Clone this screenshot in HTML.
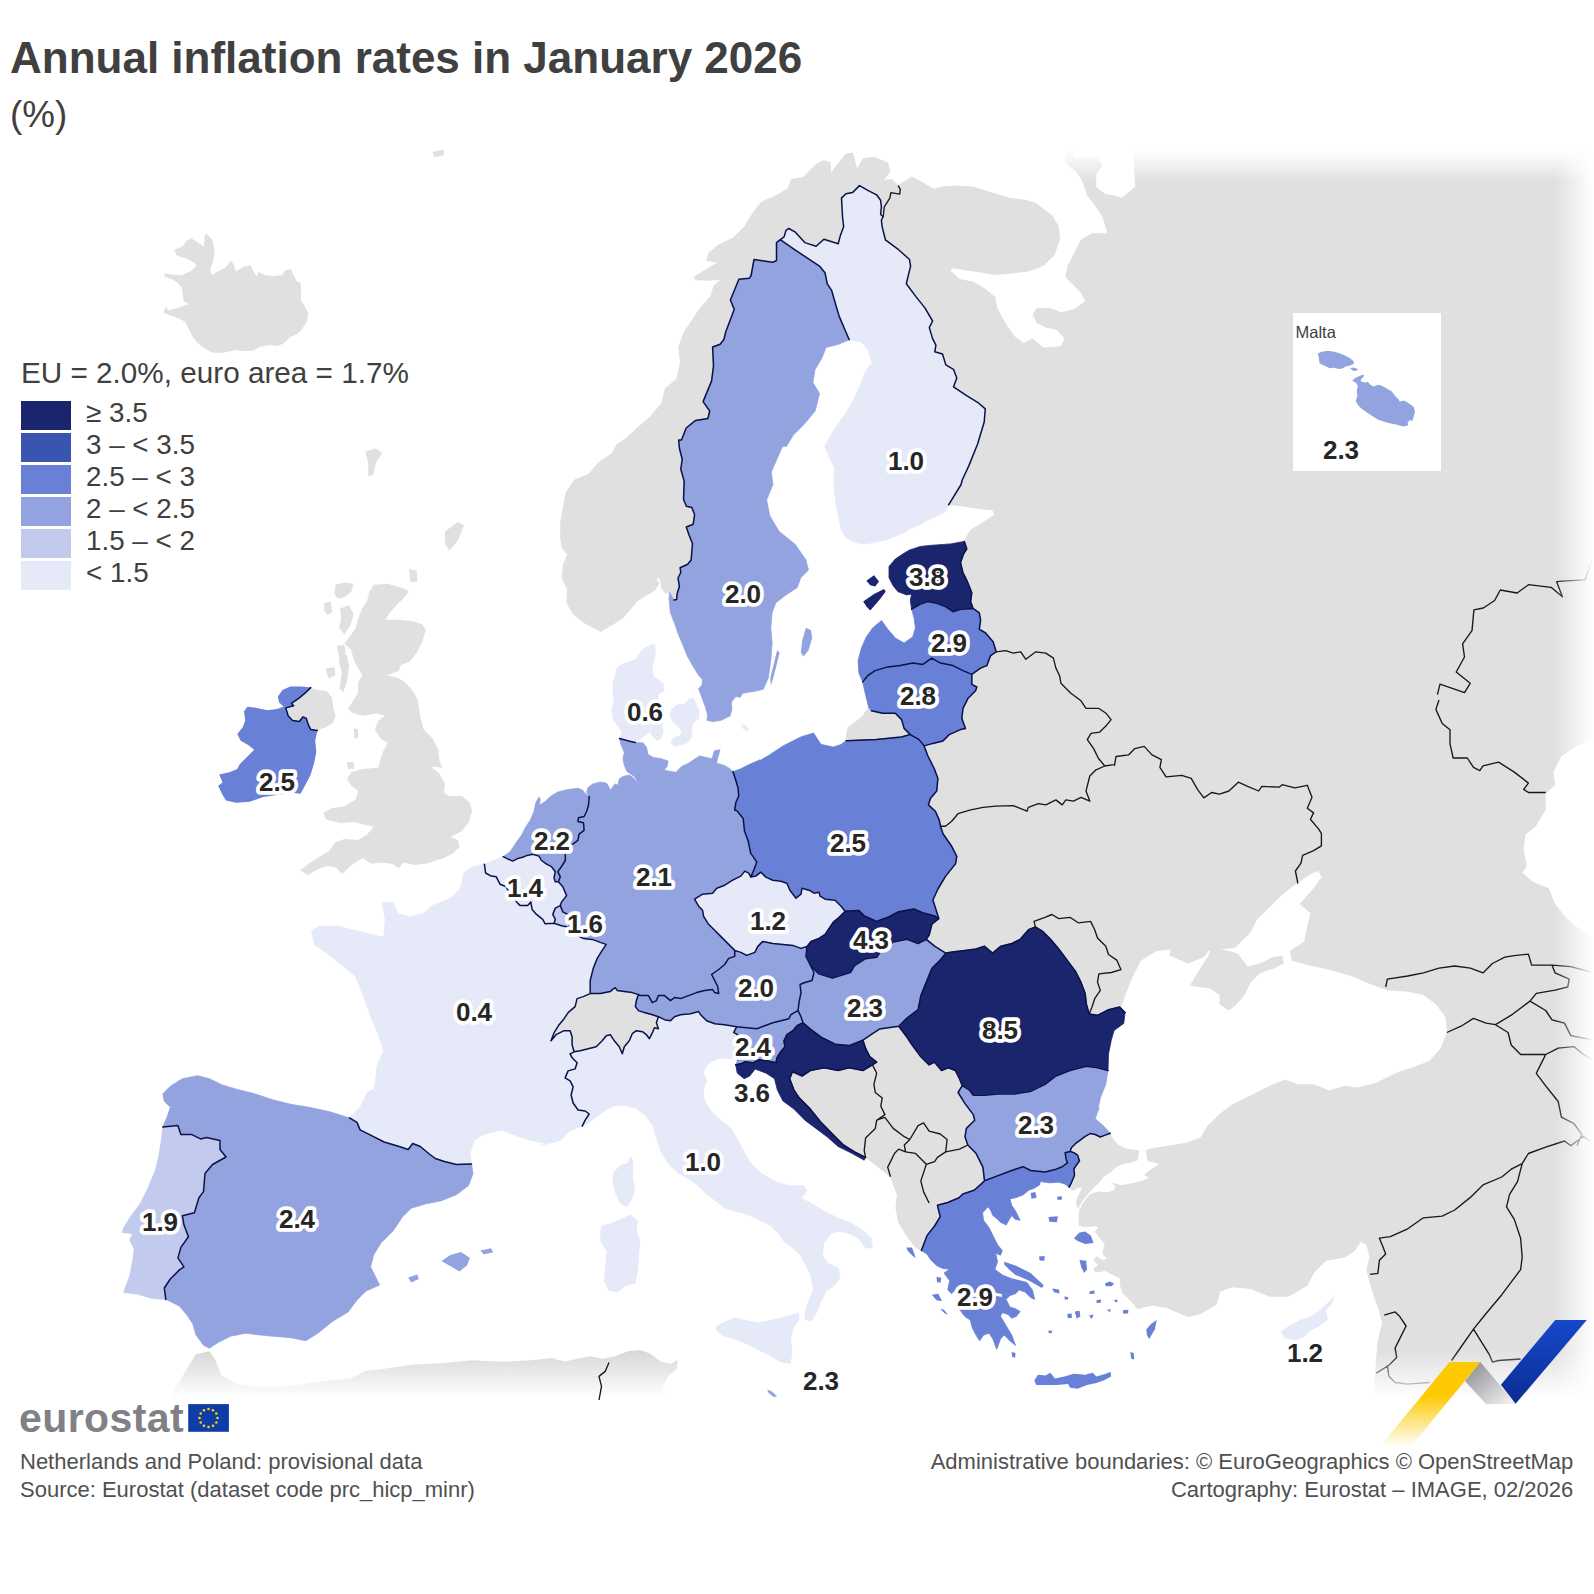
<!DOCTYPE html>
<html><head><meta charset="utf-8"><title>Annual inflation rates in January 2026</title>
<style>
html,body{margin:0;padding:0;background:#fff}
body{width:1594px;height:1594px;position:relative;overflow:hidden;font-family:"Liberation Sans",Arial,sans-serif;color:#404040}
#title{position:absolute;left:10px;top:32.5px;font-size:44px;font-weight:bold;line-height:50px;white-space:nowrap;color:#404040}
#sub{position:absolute;left:10px;top:94.5px;font-size:36.8px;line-height:40px;color:#404040}
#map{position:absolute;left:0;top:0}
.lab text{font:bold 26px "Liberation Sans",Arial,sans-serif;fill:#262626;stroke:#fff;stroke-width:7.6px;stroke-linejoin:round;paint-order:stroke;text-anchor:middle}
.malta{font:16.5px "Liberation Sans",Arial,sans-serif;fill:#404040}
#legend{position:absolute;left:21px;top:355.3px;color:#404040}
#legend .t{font-size:29.7px;line-height:36px;white-space:nowrap}
#legend .r{position:absolute;left:0;height:29px;white-space:nowrap}
#legend .r i{position:absolute;left:0;top:1px;width:49.5px;height:29px;display:block}
#legend .r span{position:absolute;left:65px;top:-2px;font-size:27.8px;line-height:30px}
#foot1,#foot2{position:absolute;font-size:22px;line-height:28px;color:#505050;white-space:nowrap}
#foot1{left:20px;top:1448px}
#foot2{right:20.7px;top:1448px;text-align:right}
#logo{position:absolute;left:19px;top:1392.6px;font-size:41px;font-weight:bold;color:#808086;line-height:50px;letter-spacing:0.4px}
</style></head><body>
<svg id="map" width="1594" height="1594" viewBox="0 0 1594 1594">
<defs>
<linearGradient id="gaf" x1="0" y1="1352" x2="0" y2="1398" gradientUnits="userSpaceOnUse"><stop offset="0" stop-color="#d8d8d8"/><stop offset="1" stop-color="#fff"/></linearGradient>
<linearGradient id="gtop" x1="0" y1="150" x2="0" y2="182" gradientUnits="userSpaceOnUse"><stop offset="0" stop-color="#fff"/><stop offset="1" stop-color="#fff" stop-opacity="0"/></linearGradient>
<linearGradient id="gright" x1="1555" y1="0" x2="1593" y2="0" gradientUnits="userSpaceOnUse"><stop offset="0" stop-color="#fff" stop-opacity="0"/><stop offset="1" stop-color="#fff"/></linearGradient>
<linearGradient id="gbot" x1="0" y1="1350" x2="0" y2="1398" gradientUnits="userSpaceOnUse"><stop offset="0" stop-color="#fff" stop-opacity="0"/><stop offset="1" stop-color="#fff"/></linearGradient>

<linearGradient id="gy" x1="0" y1="1395" x2="0" y2="1447" gradientUnits="userSpaceOnUse"><stop offset="0" stop-color="#fdc900"/><stop offset="1" stop-color="#fdc900" stop-opacity="0"/></linearGradient>
<linearGradient id="gg" x1="1470" y1="1365" x2="1505" y2="1405" gradientUnits="userSpaceOnUse"><stop offset="0" stop-color="#8f9296"/><stop offset="1" stop-color="#ececee"/></linearGradient>
<linearGradient id="gb" x1="0" y1="1320" x2="0" y2="1404" gradientUnits="userSpaceOnUse"><stop offset="0" stop-color="#1748cc"/><stop offset="1" stop-color="#0b2c92"/></linearGradient>
</defs>
<path d="M898.1 185.6 L911.7 177.2 L920.5 181.6 L933.7 189.3 L942.5 187.1 L955.7 186 L973.2 187.1 L990.8 192.6 L1008.4 198.1 L1025.9 200.3 L1039.1 204.7 L1039.1 143.2 L1594 140 L1594 1400 L1375 1400 L1374.7 1398.2 L1374.7 1382.5 L1376.3 1363.7 L1377.9 1341.7 L1382.6 1322.9 L1379.4 1310.4 L1374.7 1297.8 L1370 1282.1 L1366.9 1269.6 L1370 1257 L1366.9 1244.5 L1360.6 1241.3 L1354.4 1250.8 L1344.9 1257 L1326.1 1260.2 L1313.6 1272.7 L1307.3 1285.3 L1288.5 1296.2 L1269.7 1296.2 L1250.8 1288.4 L1232 1286.8 L1219.5 1291.5 L1216.3 1304.1 L1200.6 1313.5 L1188.1 1316.6 L1166.1 1307.2 L1162.3 1306.9 L1152.9 1305 L1143.5 1306.9 L1137.8 1308.8 L1130.3 1300 L1122.8 1293.2 L1120.3 1284.4 L1120.3 1278.2 L1115.3 1275.7 L1105.2 1270.6 L1095.2 1271.9 L1094 1268.1 L1099 1265.6 L1094 1260.6 L1096.5 1256.8 L1102.7 1260.6 L1107.8 1259.3 L1102.7 1253.1 L1105.2 1244.3 L1100.2 1238 L1095.2 1231.7 L1099 1228 L1095.2 1225.5 L1087.7 1226.7 L1079.5 1225.5 L1078.9 1215.4 L1080.2 1209.2 L1078.3 1207.9 L1076.4 1204.1 L1077.6 1197.9 L1081.4 1190.3 L1082.7 1186.6 L1077.6 1187.8 L1072.6 1190.3 L1069.1 1187.2 L1071.4 1182.8 L1074.5 1175.3 L1073.9 1169 L1076.4 1165.2 L1079.5 1160.9 L1077.6 1155.2 L1073.9 1152.7 L1070.1 1151.4 L1071.4 1147.7 L1075.1 1143.9 L1080.2 1140.2 L1085.2 1136.4 L1090.2 1133.6 L1095.2 1134.5 L1100.2 1137 L1105.2 1135.1 L1110.3 1133.2 L1102.7 1125.1 L1095.2 1118.8 L1099 1107.5 L1097.5 1111.9 L1100.3 1098.1 L1105.8 1084.3 L1108 1070.5 L1108.5 1053.9 L1111.3 1040.1 L1114.1 1030.4 L1123.7 1023.5 L1125.1 1012.5 L1119.6 1007 L1108.5 1009.7 L1097.5 1015.3 L1089.2 1013.9 L1086.4 1004.2 L1085.1 993.2 L1080.9 982.1 L1075.4 971.1 L1067.1 960.1 L1058.8 949 L1050.6 939.3 L1042.3 931.1 L1035.4 926.9 L1028.5 929.7 L1020.2 939.3 L1011.9 943.5 L1000.9 946.2 L992.6 953.1 L984.3 946.2 L976 949 L965 950.4 L954 951.8 L945.7 953.1 L934.6 946.2 L926.3 939.3 L929.1 935.2 L931.9 924.2 L938.8 918.6 L932.9 900 L937.9 889 L945.5 876.4 L955.5 863.9 L956.8 856.3 L951.7 846.3 L943 833.8 L940.5 826.2 L939.2 819.9 L935.4 811.2 L928.4 804.9 L930.4 798.6 L936.7 791.1 L937.9 778.5 L934.2 768.5 L927.9 756 L924.1 745.9 L932.9 743.4 L943 740.9 L949.2 734.6 L960.5 729.6 L965.5 728.4 L961.8 718.3 L963 708.3 L968.1 698.2 L975.6 690.7 L976.8 687 L971.8 684.4 L971.8 674.4 L980.6 668.1 L986.9 665.6 L990.6 655.6 L996.2 651.8 L993.1 641.8 L985.6 633 L979.3 629.2 L980.6 620.5 L979.3 612.9 L973.1 608.4 L970.6 601.6 L971.8 592.8 L966.8 580.3 L963 572.8 L960.5 562.7 L963.5 554 L966.8 548.9 L964.3 541.4 L970.6 530.1 L983.1 522.6 L994.4 515.1 L993.1 510 L980.6 508.8 L965.5 506.3 L955.5 505 L948.6 504.8 L961.1 484.5 L962.2 480 L968.8 465.9 L977.6 444 L984.2 422 L985.3 408.9 L977.6 402.3 L966.6 395.7 L953.5 386.9 L956.8 378.1 L953.5 369.3 L945.8 364.9 L942.5 354 L934.8 351.8 L935.9 345.2 L932.6 338.6 L929.3 327.6 L932.6 321 L924.9 307.9 L916.1 296.9 L906.3 283.7 L910.6 266.1 L909.5 259.5 L898.6 249.7 L885.4 239.8 L882.1 226.6 L881.4 220 L883.2 216.7 L884.3 206.9 L889.8 198.1 L890.9 192.6 L899.7 194.1 L900.3 189.3 L898.1 185.6Z" fill="#e0e0e0" stroke="#e0e0e0" stroke-width="1"/>
<path d="M673.9 600.1 L669.7 592.5 L665.6 593.2 L662.1 589.1 L660.1 578 L655.9 578 L658.7 583.5 L654.6 590.4 L644.9 596 L636.6 601.5 L629.7 609.8 L622.8 618 L611.8 624.9 L600.7 631.2 L585.5 623.6 L573.1 613.9 L566.9 602.9 L567.6 589.1 L562.1 578 L563.5 564.2 L567.6 554.6 L562.1 547.7 L560.7 536.6 L560.7 522.8 L563.5 506.2 L566.2 492.4 L574.5 480 L588.3 474.5 L599.3 462.1 L611.8 453.8 L617.3 444.1 L624.1 440 L635.4 429.8 L650.5 416.7 L661.7 403.5 L665.5 388.4 L676.8 379 L680.6 362.1 L678.7 347 L684.3 332 L691.9 320.7 L699.4 309.4 L710.7 296.2 L714.4 284.9 L722 279.3 L708.8 280.2 L695.6 279.6 L693.7 277.4 L708.8 268 L718.2 262.3 L706.9 260.5 L708.8 252.9 L718.2 245.4 L733.3 237.9 L744.6 226.6 L754 211.5 L761.5 202.1 L774.7 196.5 L787.8 188.9 L791.6 179.5 L802.9 177.6 L816.1 164.5 L823.6 160.7 L830 162.6 L830.5 173.9 L837.1 165.1 L845.9 154.2 L852.5 153.1 L856.9 169.5 L863.4 158.5 L874.4 157.4 L887.6 162.9 L889.8 171.7 L883.2 180.5 L892 179.4 L898.1 185.6 L900.3 189.3 L899.7 194.1 L890.9 192.6 L889.8 198.1 L884.3 206.9 L883.2 216.7 L880.6 214.5 L881.4 206.9 L880.6 200.3 L876.6 194.8 L867.8 190.4 L859.5 185.6 L852.5 192.6 L845.9 193.7 L841.5 198.1 L842.6 217.8 L843.7 226.6 L840.4 235.4 L838.2 243.7 L823.9 239.3 L816.1 246.3 L804.8 242.6 L795.4 232.2 L788.8 228.5 L786 230.3 L784.1 236.9 L780.3 239.7 L776.5 242.6 L776.5 260.5 L772.8 262.3 L754 259.5 L751.1 275.5 L749.3 278.3 L738.9 279.3 L730.4 300 L734.2 309.4 L725.7 332 L723.9 339.5 L720.1 344.2 L712.6 347 L713.5 365.8 L711.6 380.9 L703.1 401.6 L709.7 411 L707.9 418.5 L695.6 420.4 L686.2 428 L681.5 440 L678.7 440 L679.4 448.3 L682.2 459.3 L680.8 469 L684.2 481.4 L683.5 499.3 L686.3 506.2 L691.8 507.6 L694.6 514.5 L693.2 524.2 L686.3 527 L689.1 535.2 L692.5 543.5 L691.1 560.1 L687.7 564.2 L680.1 567.7 L680.8 572.5 L678 578 L679.4 586.3 L677.3 593.2 L676.6 599.4 L673.9 600.1Z" fill="#e0e0e0" stroke="#e0e0e0" stroke-width="1"/>
<path d="M872.5 1064.9 L862.9 1070.5 L849.1 1067.7 L838 1070.5 L824.2 1067.7 L810.4 1070.5 L802.1 1076 L792.5 1071.8 L789.7 1078.7 L793.9 1089.8 L799.4 1098.1 L810.4 1109.1 L821.5 1122.9 L832.5 1134 L843.5 1145 L854.6 1151.9 L865.6 1157.4 L876.7 1165.7 L890.5 1176.7 L893.2 1183.6 L897.4 1194.7 L896 1208.5 L898.7 1222.3 L907 1236.1 L915.3 1247.1 L921.4 1250.5 L924.2 1242.9 L927.1 1235.4 L934.6 1226 L940.2 1216.6 L937.4 1205.3 L947.8 1202.5 L959 1197.8 L962.8 1194 L974.1 1190.2 L981.6 1183.6 L984.5 1180.8 L982.9 1167.1 L976 1153.3 L967.8 1145 L965 1136.7 L966.4 1128.4 L974.7 1120.2 L973.3 1114.6 L965 1103.6 L958.1 1092.5 L962.2 1085.6 L959.5 1078.7 L955.3 1070.5 L948.4 1067.7 L941.5 1070.5 L934.6 1062.2 L929.1 1064.9 L920.8 1056.7 L912.5 1045.6 L907 1037.3 L898.7 1026.3 L879.4 1029.1 L871.1 1034.6 L862.9 1040.1 L865.6 1048.4 L869.8 1056.7 L876.7 1062.2 L872.5 1064.9Z" fill="#e0e0e0" stroke="#e0e0e0" stroke-width="1"/>
<path d="M846.1 740.7 L846.6 734.1 L848.2 727.6 L854.7 722.7 L862.9 716.2 L867 709.6 L871.4 710.8 L882.7 713.3 L895.3 713.3 L901.6 719.6 L904.1 728.4 L910.3 734.6 L901.3 736.9 L876.2 739.4 L846.1 740.7Z" fill="#e0e0e0" stroke="#e0e0e0" stroke-width="1"/>
<path d="M590.2 993.6 L600.2 993.6 L610.3 991.6 L612.3 989.6 L615.3 987.6 L617.3 990.6 L624.3 991.6 L632.3 992.6 L638.4 994.6 L636.4 1000.6 L635.4 1006.6 L638.4 1010.6 L644.4 1012.6 L652.4 1014.7 L658.4 1016.7 L656.4 1022.7 L658.4 1028.7 L654.4 1027.7 L652.4 1032.7 L649.4 1038.7 L646.4 1034.7 L642.4 1031.7 L636.4 1030.7 L632.3 1033.7 L629.3 1040.8 L624.3 1046.8 L622.3 1053.8 L619.3 1046.8 L614.3 1040.8 L610.3 1034.7 L606.2 1035.7 L602.2 1040.8 L596.2 1046.8 L588.2 1048.8 L580.2 1050.8 L574.1 1051.8 L572.1 1044.8 L572.1 1036.7 L570.1 1030.7 L564.1 1030.7 L556.1 1034.7 L551 1040.8 L554.1 1032.7 L559.1 1024.7 L564.1 1018.7 L568.1 1012.6 L575.1 1006.6 L577.1 998.6 L583.2 996.6 L590.2 993.6Z" fill="#e0e0e0" stroke="#e0e0e0" stroke-width="1"/>
<path d="M373.9 584.8 L387.5 583.7 L403.3 588.2 L408.9 591.6 L403.3 598.4 L396.5 605.2 L389.7 613.1 L385.2 619.8 L396.5 619.8 L412.3 621 L422.5 624.4 L425.8 630 L422.5 641.3 L416.8 652.6 L410 661.6 L401 665 L398.7 670.7 L387.5 675.2 L396.5 677.4 L403.3 680.8 L412.3 689.9 L417.9 700 L420.2 715.8 L423.6 729.4 L432.6 738.4 L438.3 749.7 L439.4 761 L442.8 767.8 L430.4 766.6 L439.4 773.4 L445 783.6 L443.9 792.6 L448.4 796 L462 796 L469.9 802.8 L472.1 810.7 L468.8 822 L462 831 L450.7 836.7 L457.5 840.1 L459.7 846.8 L452.9 853.6 L443.9 858.1 L425.8 863.8 L414.6 864.9 L403.3 862.6 L398.7 868.3 L392 863.8 L380.7 862.6 L371.6 863.8 L362.6 858.1 L353.6 863.8 L346.8 869.4 L342.3 873.9 L335.5 867.2 L326.5 866 L317.4 869.4 L308.4 875.1 L300.5 870.5 L308.4 863.8 L317.4 858.1 L328.7 851.3 L335.5 842.3 L344.5 838.9 L358.1 840.1 L367.1 834.4 L373.9 826.5 L362.6 824.2 L353.6 822 L340 823.1 L326.5 819.7 L323.1 812.9 L331 808.4 L344.5 806.2 L355.8 799.4 L358.1 790.4 L351.3 785.8 L346.8 779.1 L351.3 772.3 L362.6 768.9 L378.4 767.8 L380.7 758.7 L382.9 752 L387.5 742.9 L380.7 738.4 L375 729.4 L378.4 720.4 L385.2 715.8 L376.2 713.6 L362.6 715.8 L353.6 713.6 L347.9 709.1 L353.6 700 L358.1 693.2 L358.1 682 L362.6 675.2 L358.1 668.4 L353.6 659.4 L351.3 650.3 L344.5 643.6 L351.3 634.5 L355.8 627.8 L358.1 618.7 L361.5 609.7 L367.1 600.7 L369.4 591.6Z" fill="#e0e0e0"/>
<path d="M310.7 687.6 L317.4 689.9 L326.5 691 L332.1 697.8 L333.2 706.8 L335.5 715.8 L333.2 722.6 L326.5 727.1 L317.4 730.5 L310.7 729.4 L308.4 724.9 L306.1 718.1 L302.8 717 L299.4 721.5 L292.6 720.4 L288.1 715.8 L285.8 707.9 L293.7 705.7 L291.5 703.4 L299.4 697.8 L305 693.2Z" fill="#e0e0e0"/>
<path d="M335.5 584.8 L344.5 582.6 L353.6 583.7 L351.3 591.6 L344.5 597.3 L337.8 598.4 L334.4 593.9Z" fill="#e0e0e0"/>
<path d="M324.2 602.9 L331 601.8 L332.1 611.9 L327.6 615.3 L324.2 610.8Z" fill="#e0e0e0"/>
<path d="M340 608.6 L349.1 605.2 L353.6 614.2 L350.2 625.5 L344.5 634.5 L338.9 627.8 L341.2 618.7Z" fill="#e0e0e0"/>
<path d="M336.6 645.8 L344.5 644.7 L345.7 652.6 L338.9 656.0Z" fill="#e0e0e0"/>
<path d="M325.3 668.4 L334.4 667.3 L335.5 675.2 L328.7 678.6Z" fill="#e0e0e0"/>
<path d="M340 650.3 L346.8 654.9 L349.1 666.1 L346.8 682 L343.4 692.1 L339.6 688.7 L341.8 672.9 L338.9 661.6Z" fill="#e0e0e0"/>
<path d="M353.6 728.3 L358.1 729.4 L358.5 737.3 L354.7 738.9Z" fill="#e0e0e0"/>
<path d="M346.8 762.1 L353.6 762.1 L354 768.9 L347.9 768.9Z" fill="#e0e0e0"/>
<path d="M409 569.1 L416.8 570.7 L417.4 581.7 L410.5 581.7Z" fill="#e0e0e0"/>
<path d="M445 531.5 L457.6 522.1 L463.9 525.2 L457.6 540.9 L449.7 550.3 L445 544.1Z" fill="#e0e0e0"/>
<path d="M365.1 451.5 L376 448.4 L382.3 453.1 L376 462.5 L372.9 475 L368.2 476.6 L368.2 462.5Z" fill="#e0e0e0"/>
<path d="M432.5 152 L443.5 149.4 L444.1 155.1 L434.1 157.6Z" fill="#e0e0e0"/>
<path d="M163.8 273.4 L171.4 274.6 L181.4 275.2 L190.2 271.5 L195.8 266.5 L195.2 263.3 L187.7 258.9 L176.4 255.2 L174.5 249.5 L182.7 246.4 L186.4 240.7 L191.4 238.2 L199 243.2 L204 246.4 L204.6 235.1 L206.5 233.8 L212.1 239.5 L214.7 250.2 L213.4 260.2 L210.3 269 L211.5 275.2 L217.8 271.5 L225.3 267.7 L231 260.8 L233.5 264 L236 271.5 L242.9 267.1 L250.4 265.2 L252.9 270.2 L256.7 276.5 L258.6 272.1 L265.5 275.2 L273 275.9 L281.8 275.2 L285.5 270.2 L290.6 269 L294.3 276.5 L296.8 281.5 L300.6 282.8 L301.2 291.6 L300.6 300.3 L304.4 305.4 L308.1 312.9 L306.9 321.7 L301.9 329.2 L296.8 334.2 L290.6 336.7 L284.3 343 L278 346.1 L270.5 344.9 L260.5 346.8 L252.9 350.5 L244.1 351.2 L235.4 349.9 L227.8 351.8 L220.3 353 L211.5 352.4 L204 348 L197.7 343 L192.7 336.7 L188.9 329.2 L185.2 321.7 L177.6 317.9 L170.1 315.4 L163.2 312.3 L166.3 306.6 L168.2 310.4 L177.6 307.9 L183.9 305.4 L188.9 304.1 L183.9 301.6 L182.7 295.3 L182 287.8 L177.6 282.8 L171.4 279 L164.5 276.5Z" fill="#e0e0e0"/>
<path d="M170.3 1396.4 L179.4 1381.4 L188.4 1366.3 L195.9 1354.3 L209.5 1351.2 L215.5 1360.3 L221.5 1375.3 L236.6 1384.4 L260.7 1387.4 L290.8 1385.9 L320.9 1381.4 L351 1378.3 L366.1 1370.8 L381.1 1369.3 L411.2 1364.8 L441.4 1363.3 L471.5 1360.3 L501.6 1361.8 L531.7 1360.3 L560 1357.3 L552.5 1358.8 L565.1 1361.4 L577.6 1358.8 L590.2 1356.3 L602.7 1358.8 L615.3 1356.3 L627.8 1351.3 L640.4 1350.1 L650.4 1353.8 L660.5 1361.4 L670.5 1363.9 L677.5 1360.1 L676.8 1368.9 L668 1376.4 L663 1386.4 L665.5 1400 L665.5 1411.5 L540 1411.5 L170.3 1411.5Z" fill="url(#gaf)"/>
<path d="M1037.8 141 L1037.8 204.2 L1052.3 215.6 L1058.9 226.6 L1060 239.8 L1054.5 255.2 L1043.5 266.1 L1028.1 271.6 L1010.6 273.8 L995.2 274.9 L982 272.7 L966.6 270.5 L953.5 268.3 L950.2 270.5 L960.1 279.3 L973.2 281.5 L984.2 288.1 L995.2 296.9 L997.4 307.9 L1001.8 316.6 L1008.4 327.6 L1014.9 336.4 L1023.7 343 L1032.5 338.6 L1043.5 347.4 L1061.1 346.3 L1064.3 338.6 L1056.7 329.8 L1045.7 327.6 L1036.9 323.2 L1032.5 314.4 L1036.9 307.9 L1050.1 307.9 L1061.1 312.2 L1074.2 309 L1085.2 301.3 L1080.8 292.5 L1072 283.7 L1065.4 277.1 L1067.6 266.1 L1074.2 253 L1080.8 239.8 L1091.8 233.2 L1107.2 233.2 L1102.8 217.8 L1096.2 206.9 L1087.4 195.9 L1083 182.7 L1076.4 171.7 L1065.4 162.9 L1065.4 141.0Z" fill="#fff"/>
<path d="M1074.2 141 L1074.2 158.5 L1087.4 156.3 L1098.4 158.5 L1102.8 165.1 L1096.2 173.9 L1096.2 187.1 L1105 193.7 L1115.9 195.9 L1122 197.8 L1135.2 186.5 L1133.3 152.6 L1133.3 130.0Z" fill="#fff"/>
<path d="M1125.1 1012.4 L1120.7 1009 L1125.4 994.9 L1131.6 979.2 L1137.9 966.6 L1141.1 960.4 L1156.7 950.9 L1170.9 949.4 L1169.3 955.6 L1188.1 963.5 L1203.8 957.2 L1208.5 950.9 L1219.5 949.4 L1235.2 947.8 L1241.4 941.5 L1250.8 932.1 L1257.1 919.6 L1269.7 907 L1282.2 894.5 L1294.8 885.1 L1310.4 874.1 L1318.3 871 L1321.4 877.2 L1313.6 888.2 L1299.5 903.9 L1310.4 913.3 L1307.3 925.8 L1304.2 941.5 L1294.8 947.8 L1290 950.9 L1291.6 960.4 L1307.3 965.1 L1329.3 969.8 L1351.2 976 L1370 983.9 L1387.3 990.2 L1407.7 991.7 L1423.4 994.9 L1435.9 1004.3 L1445.3 1016.8 L1446.9 1032.5 L1440.6 1048.2 L1429.6 1060.7 L1413.9 1067 L1395.1 1073.3 L1376.3 1082.7 L1357.5 1087.4 L1344.9 1085.8 L1329.3 1090.5 L1313.6 1084.3 L1297.9 1084.3 L1285.3 1079.5 L1269.7 1085.8 L1250.8 1095.2 L1232 1104.6 L1219.5 1114.1 L1206.9 1126.6 L1200.6 1137.6 L1188.1 1142.3 L1169.3 1145.4 L1150.5 1148.6 L1146 1150.2 L1139.1 1150.2 L1127.8 1148.9 L1119 1145.2 L1114 1140.2 L1110.3 1133.2 L1094 1132.2 L1094 1023.1Z" fill="#fff"/>
<path d="M1594 740.8 L1577.1 745.5 L1561.4 756.5 L1553.5 772.1 L1555.1 784.7 L1545.7 794.1 L1545.7 809.8 L1536.3 825.5 L1525.3 834.9 L1523.7 850.6 L1526.9 866.2 L1522.2 872.5 L1533.1 881.9 L1548.8 888.2 L1555.1 903.9 L1567.7 919.6 L1583.3 932.1 L1594 938.4Z" fill="#fff"/>
<path d="M1078.3 1207.9 L1083.9 1199.1 L1090.2 1191.6 L1095.2 1186.6 L1100.2 1181.6 L1104 1176.5 L1110.3 1172.8 L1115.3 1167.8 L1122.8 1164 L1130.3 1162.7 L1137.9 1160.2 L1139.1 1150.2 L1146 1150.2 L1147.3 1161.5 L1152.9 1162.1 L1159.2 1164 L1155.4 1166.5 L1147.9 1171.5 L1144.1 1175.3 L1149.2 1177.8 L1140.4 1181.6 L1130.3 1183.4 L1121.6 1185.3 L1115.3 1183.4 L1110.3 1182.2 L1112.8 1184.1 L1115.3 1186.6 L1114 1190.3 L1107.8 1192.2 L1099 1191.6 L1091.4 1193.5 L1086.4 1197.9 L1081.4 1205.4 L1080.2 1209.2Z" fill="#fff"/>
<path d="M1189.7 985.4 L1197.5 972.9 L1208.5 955.6 L1210.7 949.4 L1217.9 948.4 L1228.9 950.9 L1238.3 954.1 L1247.7 966.6 L1260.2 963.5 L1272.8 957.2 L1282.2 955.6 L1283.8 963.5 L1274.4 968.2 L1260.2 972.9 L1250.8 982.3 L1244.6 994.9 L1235.2 1005.8 L1228.9 1010.5 L1219.5 1004.3 L1219.5 994.9 L1210.1 988.6 L1199.1 987.0Z" fill="#e0e0e0"/>
<path d="M780.3 239.7 L784.1 236.9 L786 230.3 L788.8 228.5 L795.4 232.2 L804.8 242.6 L816.1 246.3 L823.9 239.3 L838.2 243.7 L840.4 235.4 L843.7 226.6 L842.6 217.8 L841.5 198.1 L845.9 193.7 L852.5 192.6 L859.5 185.6 L867.8 190.4 L876.6 194.8 L880.6 200.3 L881.4 206.9 L880.6 214.5 L883.2 216.7 L881.4 220 L882.1 226.6 L885.4 239.8 L898.6 249.7 L909.5 259.5 L910.6 266.1 L906.3 283.7 L916.1 296.9 L924.9 307.9 L932.6 321 L929.3 327.6 L932.6 338.6 L935.9 345.2 L934.8 351.8 L942.5 354 L945.8 364.9 L953.5 369.3 L956.8 378.1 L953.5 386.9 L966.6 395.7 L977.6 402.3 L985.3 408.9 L984.2 422 L977.6 444 L968.8 465.9 L962.2 480 L961.1 484.5 L948.6 504.8 L944.7 512.2 L935 517.1 L926.8 520.4 L918.6 525.2 L910.5 528.5 L902.3 533.4 L894.2 536.7 L886 539.9 L877.9 541.6 L869.7 543.2 L861.6 544 L853.4 541.6 L845.2 536.7 L842 531.8 L840.4 525.2 L838.7 517.1 L836.3 505.7 L834.6 492.6 L833.8 479.6 L834.6 468.2 L824.7 446.8 L827.2 441.8 L834.9 428.6 L845.9 413.2 L854.7 397.9 L861.2 382.5 L865.6 371.5 L872.2 362.7 L867.8 349.6 L861.2 341.9 L849.2 339.7 L845.9 332 L839.3 316.6 L836 305.7 L831.6 290.3 L827.2 283.7 L825 272.7 L819.5 266.1 L806.3 257.4 L793.2 248.6 L780.3 239.7Z" fill="#e6e9f8" stroke="#e6e9f8" stroke-width="0.8"/>
<path d="M780.3 239.7 L776.5 242.6 L776.5 260.5 L772.8 262.3 L754 259.5 L751.1 275.5 L749.3 278.3 L738.9 279.3 L730.4 300 L734.2 309.4 L725.7 332 L723.9 339.5 L720.1 344.2 L712.6 347 L713.5 365.8 L711.6 380.9 L703.1 401.6 L709.7 411 L707.9 418.5 L695.6 420.4 L686.2 428 L681.5 440 L678.7 440 L679.4 448.3 L682.2 459.3 L680.8 469 L684.2 481.4 L683.5 499.3 L686.3 506.2 L691.8 507.6 L694.6 514.5 L693.2 524.2 L686.3 527 L689.1 535.2 L692.5 543.5 L691.1 560.1 L687.7 564.2 L680.1 567.7 L680.8 572.5 L678 578 L679.4 586.3 L677.3 593.2 L676.6 599.4 L673.9 600.1 L669.7 592.5 L669 598.7 L670.4 612.5 L674.6 623.6 L678 633.2 L679.4 636.8 L682.8 644.7 L687.3 656 L692.9 666.1 L698.6 675.2 L702.5 679.7 L702 685.3 L698.6 688.7 L702 697.8 L705.3 706.8 L707.6 714.7 L707 720.3 L713.2 721.5 L721.2 720.3 L730.2 715.8 L731.9 709 L731.3 702.3 L735.8 696.6 L740.4 697.2 L742.6 693.2 L749.4 692.1 L756.2 691 L763.3 689.2 L768.3 677.9 L770.8 660.4 L772.1 642.8 L770.8 627.8 L772.1 612.7 L775.8 602.7 L785.9 595.1 L797.2 587.6 L800.9 577.6 L808.5 570 L805.8 559.7 L794.9 544.1 L779.2 531.5 L769.8 515.8 L766.6 500.1 L772.9 484.5 L771.3 471.9 L782.3 446.8 L786.6 446.2 L793.2 435.2 L804.2 424.2 L815.1 411.1 L819.5 393.5 L812.9 382.5 L815.1 369.3 L821.7 358.4 L826.1 347.4 L839.3 344.1 L849.2 339.7 L845.9 332 L839.3 316.6 L836 305.7 L831.6 290.3 L827.2 283.7 L825 272.7 L819.5 266.1 L806.3 257.4 L793.2 248.6 L780.3 239.7Z" fill="#93a3df" stroke="#93a3df" stroke-width="0.8"/>
<path d="M911.6 609.2 L910.3 600.4 L911.6 594.1 L906.6 594.9 L897.8 591.6 L892.8 585.3 L889 577.8 L889 566.5 L895.3 559 L902.8 554 L909.1 550.2 L920.4 546.4 L932.9 545.2 L950.5 543.9 L964.3 541.4 L966.8 548.9 L963.5 554 L960.5 562.7 L963 572.8 L966.8 580.3 L971.8 592.8 L970.6 601.6 L973.1 608.4 L960.5 609.2 L953 611.7 L945.5 606.6 L935.4 602.9 L927.9 601.6 L920.4 604.1 L911.6 609.2Z" fill="#1b256e" stroke="#1b256e" stroke-width="0.8"/>
<path d="M862.7 681.9 L858.9 673.1 L858.1 660.6 L861.4 648.1 L866.4 636.8 L872.7 628 L881.5 620.5 L887.8 629.2 L895.3 638 L904.1 643 L912.8 636.8 L915.4 628 L914.1 617.9 L911.6 609.2 L920.4 604.1 L927.9 601.6 L935.4 602.9 L945.5 606.6 L953 611.7 L960.5 609.2 L973.1 608.4 L979.3 612.9 L980.6 620.5 L979.3 629.2 L985.6 633 L993.1 641.8 L996.2 651.8 L990.6 655.6 L986.9 665.6 L980.6 668.1 L971.8 674.4 L963 670.6 L953 665.6 L940.5 663.1 L931.7 658.1 L922.9 664.4 L912.8 663.1 L900.3 665.6 L887.8 666.9 L875.2 670.6 L867.7 675.7 L862.7 681.9Z" fill="#6880d5" stroke="#6880d5" stroke-width="0.8"/>
<path d="M862.7 681.9 L865.2 693.2 L868.9 708.3 L871.4 710.8 L882.7 713.3 L895.3 713.3 L901.6 719.6 L904.1 728.4 L910.3 734.6 L919.1 739.6 L924.1 745.9 L932.9 743.4 L943 740.9 L949.2 734.6 L960.5 729.6 L965.5 728.4 L961.8 718.3 L963 708.3 L968.1 698.2 L975.6 690.7 L976.8 687 L971.8 684.4 L971.8 674.4 L963 670.6 L953 665.6 L940.5 663.1 L931.7 658.1 L922.9 664.4 L912.8 663.1 L900.3 665.6 L887.8 666.9 L875.2 670.6 L867.7 675.7 L862.7 681.9Z" fill="#6880d5" stroke="#6880d5" stroke-width="0.8"/>
<path d="M503.2 856.7 L510.1 851.7 L512.6 847.9 L517.6 840.4 L521.4 835.4 L525.2 827.8 L530.2 820.3 L534 811.5 L535.8 802.7 L539 797.1 L540.2 799 L539.6 805.2 L545.2 801.5 L550.3 796.5 L557.8 792.1 L567.8 789.6 L577.9 788.3 L582.9 790.2 L585.4 794 L589.2 796.5 L588.5 805.2 L586.6 811.5 L584.1 816.5 L578.5 817.8 L577.9 821.6 L583.5 822.8 L584.1 830.3 L579.1 834.1 L577.9 840.4 L572.8 844.1 L567.8 846.6 L565.3 852.9 L565.3 860.5 L562.2 865.5 L557.8 871.7 L560.3 876.8 L558.4 881.8 L555.3 881.8 L554 878 L555.3 871.7 L551.5 866.7 L546.5 864.2 L541.5 860.5 L539 856.1 L532.7 854.2 L527.1 855.4 L522.7 857.3 L517.6 858.6 L512.6 861.1 L507 858.6 L503.2 856.7Z" fill="#93a3df" stroke="#93a3df" stroke-width="0.8"/>
<path d="M484.4 864.2 L503.2 856.7 L507 858.6 L512.6 861.1 L517.6 858.6 L522.7 857.3 L527.1 855.4 L532.7 854.2 L539 856.1 L541.5 860.5 L546.5 864.2 L551.5 866.7 L555.3 871.7 L554 878 L555.3 881.8 L558.4 881.8 L562.8 886.8 L566.6 895.6 L561.6 901.9 L560.3 905.6 L555.3 908.1 L552.8 914.4 L555.3 919.4 L554 923.2 L545.2 923.8 L542.7 919.4 L536.5 914.4 L532.1 909.4 L530.8 901.9 L527.7 905.6 L520.2 905.6 L517.6 903.1 L508.9 892.4 L506.3 886.8 L500.1 884.3 L496.3 876.8 L491.3 876.1 L485.6 873 L484.4 864.2Z" fill="#e6e9f8" stroke="#e6e9f8" stroke-width="0.8"/>
<path d="M560.3 905.6 L562.8 911.9 L567.8 914.4 L570.3 918.2 L569.1 927.3 L561.6 925.7 L554 923.2 L555.3 919.4 L552.8 914.4 L555.3 908.1 L560.3 905.6Z" fill="#c2caee" stroke="#c2caee" stroke-width="0.8"/>
<path d="M589.2 796.5 L586.6 792.7 L587.9 787.7 L592.9 783.9 L600.5 782 L606.7 783.3 L609.2 787.7 L610.5 790.2 L614.9 783.9 L618 785.2 L619.3 778.9 L623 776.4 L629.3 775.1 L633.1 777.6 L640.6 786.4 L634.3 776.4 L626.8 771.4 L624.3 765.1 L623 758.8 L624.3 752.5 L621.8 746.3 L621.2 745.2 L619.5 738.6 L629.7 741.2 L635.3 742.4 L643.2 742.9 L646.6 747.4 L647.8 754.2 L653.4 757.6 L661.3 758.7 L668.1 761 L667 766.6 L664.1 770 L669.2 771.2 L676 772.3 L681.6 766.6 L688.4 763.2 L695.2 758.7 L699.7 755.9 L706.5 757.6 L712.1 758.7 L714.4 750.8 L720 749.7 L717.8 757.6 L716.6 763.2 L724.5 765.5 L730.2 768.9 L733 771.7 L735.8 780.2 L738.1 788.1 L738.7 796 L735.8 802.8 L734.7 810 L737 810.9 L743.2 818.5 L744.5 831 L748.2 841.1 L750.8 853.6 L752.8 856.1 L756.8 862.1 L753.8 870.1 L750.8 877.1 L748.8 873.1 L744.8 871.1 L740.8 876.1 L732.7 880.2 L724.7 885.2 L716.7 888.2 L712.6 893.2 L702.6 894.2 L694.6 899.2 L698.6 906.2 L702.6 910.3 L703.6 916.3 L708.6 924.3 L714.7 930.3 L720.7 936.4 L728.7 944.4 L734.7 950.4 L734.7 956.4 L728.7 958.4 L724.7 964.5 L718.7 969.5 L711.6 974.5 L714.7 980.5 L717.7 986.5 L718.7 993.6 L714.7 992.6 L712.6 989.6 L704.6 990.6 L696.6 992.6 L688.6 995.6 L680.5 998.6 L674.5 997.6 L670.5 1000.6 L664.5 995.6 L658.4 995.6 L656.4 1000.6 L652.4 1002.6 L648.4 995.6 L640.4 995.6 L638.4 994.6 L632.3 992.6 L624.3 991.6 L617.3 990.6 L615.3 987.6 L612.3 989.6 L610.3 991.6 L600.2 993.6 L590.2 993.6 L590.2 980.5 L593.2 968.5 L597.2 958.4 L602.2 950.4 L606.2 944.4 L600.2 942.4 L592.2 939.4 L583.2 938.4 L573.1 933.4 L569.1 927.3 L570.3 918.2 L567.8 914.4 L562.8 911.9 L560.3 905.6 L561.6 901.9 L566.6 895.6 L562.8 886.8 L558.4 881.8 L560.3 876.8 L557.8 871.7 L562.2 865.5 L565.3 860.5 L565.3 852.9 L567.8 846.6 L572.8 844.1 L577.9 840.4 L579.1 834.1 L584.1 830.3 L583.5 822.8 L577.9 821.6 L578.5 817.8 L584.1 816.5 L586.6 811.5 L588.5 805.2 L589.2 796.5Z" fill="#93a3df" stroke="#93a3df" stroke-width="0.8"/>
<path d="M733 771.7 L740.4 768.9 L749.4 764.4 L760 759.9 L750.8 765.8 L768.3 755.7 L783.4 745.7 L800.9 736.9 L813.5 733.1 L821 744.4 L833.6 747 L841.1 744.4 L846.1 740.7 L876.2 739.4 L901.3 736.9 L910.3 734.6 L919.1 739.6 L924.1 745.9 L927.9 756 L934.2 768.5 L937.9 778.5 L936.7 791.1 L930.4 798.6 L928.4 804.9 L935.4 811.2 L939.2 819.9 L940.5 826.2 L943 833.8 L951.7 846.3 L956.8 856.3 L955.5 863.9 L945.5 876.4 L937.9 889 L932.9 900 L938.8 918.6 L934.6 915.9 L923.6 913.1 L913.9 909 L898.7 911.7 L887.7 917.3 L876.7 921.4 L864.2 915.9 L858.7 910.4 L845.1 911.3 L841.1 906.2 L835.1 900.2 L825.1 899.2 L820.1 896.2 L819 892.2 L814 893.2 L809 890.2 L802 888.2 L801 894.2 L796 898.2 L789.9 890.2 L786.9 883.2 L780.9 881.2 L772.9 880.2 L765.8 877.1 L760.8 872.1 L755.8 876.1 L750.8 877.1 L753.8 870.1 L756.8 862.1 L752.8 856.1 L750.8 853.6 L748.2 841.1 L744.5 831 L743.2 818.5 L737 810.9 L734.7 810 L735.8 802.8 L738.7 796 L738.1 788.1 L735.8 780.2 L733 771.7Z" fill="#6880d5" stroke="#6880d5" stroke-width="0.8"/>
<path d="M750.8 877.1 L755.8 876.1 L760.8 872.1 L765.8 877.1 L772.9 880.2 L780.9 881.2 L786.9 883.2 L789.9 890.2 L796 898.2 L801 894.2 L802 888.2 L809 890.2 L814 893.2 L819 892.2 L820.1 896.2 L825.1 899.2 L835.1 900.2 L841.1 906.2 L845.1 911.3 L839.1 917.3 L833.1 922.3 L829.1 928.3 L825.1 934.4 L819 938.4 L811 941.4 L807 946.4 L801 948.4 L792.9 945.4 L782.9 944.4 L772.9 943.4 L762.8 941.4 L757.8 946.4 L754.8 952.4 L746.8 955.4 L740.8 952.4 L734.7 950.4 L728.7 944.4 L720.7 936.4 L714.7 930.3 L708.6 924.3 L703.6 916.3 L702.6 910.3 L698.6 906.2 L694.6 899.2 L702.6 894.2 L712.6 893.2 L716.7 888.2 L724.7 885.2 L732.7 880.2 L740.8 876.1 L744.8 871.1 L748.8 873.1 L750.8 877.1Z" fill="#e6e9f8" stroke="#e6e9f8" stroke-width="0.8"/>
<path d="M807 946.4 L811 941.4 L819 938.4 L825.1 934.4 L829.1 928.3 L833.1 922.3 L839.1 917.3 L845.1 911.3 L858.7 910.4 L864.2 915.9 L876.7 921.4 L887.7 917.3 L898.7 911.7 L913.9 909 L923.6 913.1 L934.6 915.9 L938.8 918.6 L931.9 924.2 L929.1 935.2 L926.3 939.3 L918.1 943.5 L907 939.3 L893.2 942.1 L882.2 949 L876.7 957.3 L865.6 958.7 L854.6 965.6 L850.4 972.5 L832.5 978 L818.7 973.9 L810 964.5 L806 956.4 L807 946.4Z" fill="#1b256e" stroke="#1b256e" stroke-width="0.8"/>
<path d="M638.4 994.6 L640.4 995.6 L648.4 995.6 L652.4 1002.6 L656.4 1000.6 L658.4 995.6 L664.5 995.6 L670.5 1000.6 L674.5 997.6 L680.5 998.6 L688.6 995.6 L696.6 992.6 L704.6 990.6 L712.6 989.6 L714.7 992.6 L718.7 993.6 L717.7 986.5 L714.7 980.5 L711.6 974.5 L718.7 969.5 L724.7 964.5 L728.7 958.4 L734.7 956.4 L734.7 950.4 L740.8 952.4 L746.8 955.4 L754.8 952.4 L757.8 946.4 L762.8 941.4 L772.9 943.4 L782.9 944.4 L792.9 945.4 L801 948.4 L807 946.4 L806 956.4 L810 964.5 L814 972.5 L812 980.5 L805 982.5 L800 984.5 L801 992.6 L799 1002.6 L798 1010.6 L790.9 1014.7 L788.9 1018.7 L780.9 1020.7 L772.9 1022.7 L764.8 1025.7 L756.8 1028.7 L746.8 1027.7 L736.7 1026.7 L724.7 1024.7 L714.7 1023.7 L706.6 1020.7 L700.6 1014.7 L698.6 1011.6 L690.6 1013.7 L680.5 1014.7 L674.5 1016.7 L670.5 1020.7 L664.5 1019.7 L658.4 1016.7 L652.4 1014.7 L644.4 1012.6 L638.4 1010.6 L635.4 1006.6 L636.4 1000.6 L638.4 994.6Z" fill="#93a3df" stroke="#93a3df" stroke-width="0.8"/>
<path d="M810 964.5 L818.7 973.9 L832.5 978 L850.4 972.5 L854.6 965.6 L865.6 958.7 L876.7 957.3 L882.2 949 L893.2 942.1 L907 939.3 L918.1 943.5 L926.3 939.3 L934.6 946.2 L945.7 953.1 L940.2 960.1 L931.9 968.3 L926.3 982.1 L920.8 995.9 L918.1 1009.7 L907 1018 L898.7 1026.3 L879.4 1029.1 L871.1 1034.6 L862.9 1040.1 L849.1 1045.6 L835.3 1044.2 L821.5 1037.3 L810.4 1029.1 L803 1022.7 L801 1016.7 L798 1010.6 L799 1002.6 L801 992.6 L800 984.5 L805 982.5 L812 980.5 L814 972.5 L810 964.5Z" fill="#93a3df" stroke="#93a3df" stroke-width="0.8"/>
<path d="M798 1010.6 L801 1016.7 L803 1022.7 L797 1025.7 L792.9 1030.7 L786.9 1034.7 L783.9 1040.8 L784.9 1046.8 L779.9 1052.8 L776.9 1057.8 L775.9 1062.8 L766.9 1060.8 L758.8 1059.8 L752.8 1062.8 L744.8 1061.8 L740.8 1063.8 L735.7 1064.8 L737.7 1059.8 L735.7 1054.8 L738.7 1048.8 L735.7 1042.8 L737.7 1034.7 L733.7 1032.7 L736.7 1026.7 L746.8 1027.7 L756.8 1028.7 L764.8 1025.7 L772.9 1022.7 L780.9 1020.7 L788.9 1018.7 L790.9 1014.7 L798 1010.6Z" fill="#93a3df" stroke="#93a3df" stroke-width="0.8"/>
<path d="M803 1022.7 L810.4 1029.1 L821.5 1037.3 L835.3 1044.2 L849.1 1045.6 L862.9 1040.1 L865.6 1048.4 L869.8 1056.7 L876.7 1062.2 L872.5 1064.9 L862.9 1070.5 L849.1 1067.7 L838 1070.5 L824.2 1067.7 L810.4 1070.5 L802.1 1076 L792.5 1071.8 L789.7 1078.7 L793.9 1089.8 L799.4 1098.1 L810.4 1109.1 L821.5 1122.9 L832.5 1134 L843.5 1145 L854.6 1151.9 L865.6 1157.4 L864.2 1160.2 L851.8 1153.3 L838 1146.4 L827 1136.7 L815.9 1128.4 L804.9 1120.2 L793.9 1109.1 L782.8 1100.8 L777.3 1089.8 L774.5 1078.7 L766.2 1073.2 L755.2 1069.1 L749.7 1076 L744.2 1078.7 L737.3 1073.2 L735.7 1064.8 L740.8 1063.8 L744.8 1061.8 L752.8 1062.8 L758.8 1059.8 L766.9 1060.8 L775.9 1062.8 L776.9 1057.8 L779.9 1052.8 L784.9 1046.8 L783.9 1040.8 L786.9 1034.7 L792.9 1030.7 L797 1025.7 L803 1022.7Z" fill="#1b256e" stroke="#1b256e" stroke-width="0.8"/>
<path d="M945.7 953.1 L954 951.8 L965 950.4 L976 949 L984.3 946.2 L992.6 953.1 L1000.9 946.2 L1011.9 943.5 L1020.2 939.3 L1028.5 929.7 L1035.4 926.9 L1042.3 931.1 L1050.6 939.3 L1058.8 949 L1067.1 960.1 L1075.4 971.1 L1080.9 982.1 L1085.1 993.2 L1086.4 1004.2 L1089.2 1013.9 L1097.5 1015.3 L1108.5 1009.7 L1119.6 1007 L1125.1 1012.5 L1123.7 1023.5 L1114.1 1030.4 L1111.3 1040.1 L1108.5 1053.9 L1108 1070.5 L1097.5 1067.7 L1086.4 1066.3 L1069.9 1070.5 L1056.1 1076 L1045 1084.3 L1031.2 1091.2 L1014.7 1093.9 L998.1 1093.9 L984.3 1095.3 L973.3 1095.3 L969.1 1089.8 L962.2 1085.6 L959.5 1078.7 L955.3 1070.5 L948.4 1067.7 L941.5 1070.5 L934.6 1062.2 L929.1 1064.9 L920.8 1056.7 L912.5 1045.6 L907 1037.3 L898.7 1026.3 L907 1018 L918.1 1009.7 L920.8 995.9 L926.3 982.1 L931.9 968.3 L940.2 960.1 L945.7 953.1Z" fill="#1b256e" stroke="#1b256e" stroke-width="0.8"/>
<path d="M962.2 1085.6 L969.1 1089.8 L973.3 1095.3 L984.3 1095.3 L998.1 1093.9 L1014.7 1093.9 L1031.2 1091.2 L1045 1084.3 L1056.1 1076 L1069.9 1070.5 L1086.4 1066.3 L1097.5 1067.7 L1108 1070.5 L1105.8 1084.3 L1100.3 1098.1 L1097.5 1111.9 L1099 1107.5 L1095.2 1118.8 L1102.7 1125.1 L1110.3 1133.2 L1105.2 1135.1 L1100.2 1137 L1095.2 1134.5 L1090.2 1133.6 L1085.2 1136.4 L1080.2 1140.2 L1075.1 1143.9 L1071.4 1147.7 L1070.1 1151.4 L1065.1 1152.7 L1066.3 1160.2 L1067.6 1162.7 L1062.6 1166.5 L1055.1 1169.6 L1045 1172.1 L1030.6 1170.5 L1023 1166.7 L1011.7 1170.5 L996.7 1176.1 L984.5 1180.8 L982.9 1167.1 L976 1153.3 L967.8 1145 L965 1136.7 L966.4 1128.4 L974.7 1120.2 L973.3 1114.6 L965 1103.6 L958.1 1092.5 L962.2 1085.6Z" fill="#93a3df" stroke="#93a3df" stroke-width="0.8"/>
<path d="M921.4 1250.5 L924.2 1242.9 L927.1 1235.4 L934.6 1226 L940.2 1216.6 L937.4 1205.3 L947.8 1202.5 L959 1197.8 L962.8 1194 L974.1 1190.2 L981.6 1183.6 L984.5 1180.8 L996.7 1176.1 L1011.7 1170.5 L1023 1166.7 L1030.6 1170.5 L1045 1172.1 L1055.1 1169.6 L1062.6 1166.5 L1067.6 1162.7 L1066.3 1160.2 L1065.1 1152.7 L1070.1 1151.4 L1073.9 1152.7 L1077.6 1155.2 L1079.5 1160.9 L1076.4 1165.2 L1073.9 1169 L1074.5 1175.3 L1071.4 1182.8 L1069.1 1187.2 L1065.1 1184.1 L1058.8 1182.2 L1050 1182.8 L1040 1181.6 L1040 1184.6 L1034.3 1188.3 L1028.7 1190.2 L1023 1194.9 L1015.5 1197.8 L1009.9 1198.7 L1011.7 1205.3 L1015.5 1210.9 L1020.2 1220.3 L1015.5 1219.4 L1011.7 1215.6 L1009.9 1218.5 L1006.1 1225 L1000.5 1222.2 L996.7 1218.5 L992.9 1215.6 L991 1210.9 L988.2 1206.8 L982.6 1212.8 L983.5 1220.3 L989.2 1227.9 L992.9 1235.4 L997.6 1244.8 L1002.3 1250.5 L1000.5 1255.2 L995.7 1253.3 L997.6 1261.7 L994.8 1269.3 L1002.3 1274.9 L1011.7 1278.7 L1019.3 1280.6 L1026.8 1282.4 L1032.4 1290 L1034.7 1299.4 L1030.6 1297.5 L1024.9 1291.9 L1019.3 1290 L1015.5 1293.7 L1009.9 1295.6 L1006.1 1299.4 L1009.9 1306.9 L1015.5 1308.8 L1020.2 1311.6 L1016.4 1316.3 L1011.7 1318.2 L1008 1314.4 L1002.3 1312.6 L1000.5 1316.3 L1006.1 1325.7 L1011.7 1335.1 L1015.5 1345.5 L1009.9 1340.8 L1004.2 1335.1 L1000.5 1338.9 L996.7 1349.3 L992.9 1338.9 L989.2 1333.3 L983.5 1335.1 L979.7 1340.8 L976 1335.1 L972.2 1327.6 L970.3 1320.1 L964.7 1316.3 L959 1308.8 L962.8 1303.1 L959 1299.4 L964.7 1296.6 L977.9 1297.5 L992.9 1295.6 L1002.3 1297.5 L1002.3 1293.7 L992.9 1291.9 L977.9 1292.8 L964.7 1291.9 L955.3 1290 L951.5 1293.7 L947.8 1290 L949.6 1280.6 L944 1273 L949.6 1269.3 L942.1 1268.3 L936.5 1265.5 L930.8 1259.9 L927.1 1254.2 L921.4 1250.5Z" fill="#6880d5" stroke="#6880d5" stroke-width="0.8"/>
<path d="M582.2 1126.1 L585.2 1120.1 L589.2 1114 L585.2 1111 L578.1 1110 L573.1 1103 L571.1 1095 L573.1 1086.9 L570.1 1080.9 L565.1 1077.9 L568.1 1070.9 L575.1 1068.9 L577.1 1062.8 L572.1 1057.8 L570.1 1053.8 L574.1 1051.8 L580.2 1050.8 L588.2 1048.8 L596.2 1046.8 L602.2 1040.8 L606.2 1035.7 L610.3 1034.7 L614.3 1040.8 L619.3 1046.8 L622.3 1053.8 L624.3 1046.8 L629.3 1040.8 L632.3 1033.7 L636.4 1030.7 L642.4 1031.7 L646.4 1034.7 L649.4 1038.7 L652.4 1032.7 L654.4 1027.7 L658.4 1028.7 L656.4 1022.7 L658.4 1016.7 L664.5 1019.7 L670.5 1020.7 L674.5 1016.7 L680.5 1014.7 L690.6 1013.7 L698.6 1011.6 L700.6 1014.7 L706.6 1020.7 L714.7 1023.7 L724.7 1024.7 L736.7 1026.7 L733.7 1032.7 L737.7 1034.7 L735.7 1042.8 L738.7 1048.8 L735.7 1054.8 L737.7 1059.8 L730.7 1058.8 L720.7 1057.8 L712.6 1060.8 L706.9 1065.2 L703.1 1072.8 L706.9 1080.3 L703.1 1090.3 L704.4 1100.4 L710.6 1110.4 L720.7 1120.5 L730.7 1128 L738.2 1140.5 L743.3 1150.6 L750.8 1163.1 L760.8 1173.1 L773.4 1180.7 L788.4 1185.7 L803.5 1185.7 L807.3 1190.7 L801 1198.2 L811 1203.3 L823.6 1210.8 L838.6 1218.3 L851.2 1223.3 L863.7 1230.9 L871.2 1238.4 L872.5 1247.2 L866.2 1248.4 L858.7 1238.4 L848.7 1233.4 L838.6 1230.9 L831.1 1233.4 L823.6 1243.4 L822.3 1256 L828.6 1263.5 L838.6 1268.5 L839.9 1278.5 L833.6 1286.1 L826.1 1291.1 L821.1 1301.1 L816 1313.7 L811 1321.2 L804.7 1318.7 L806 1308.7 L809.8 1298.6 L813.5 1288.6 L811 1276 L806 1266 L801 1256 L793.5 1248.4 L783.4 1240.9 L778.4 1233.4 L770.9 1225.8 L760.8 1220.8 L750.8 1215.8 L743.3 1213.3 L733.2 1210.8 L725.7 1208.3 L715.7 1200.8 L705.6 1193.2 L695.6 1183.2 L683 1175.7 L675.5 1170.6 L668 1163.1 L660.5 1150.6 L656.7 1138 L652.9 1125.5 L645.4 1115.4 L635.4 1107.9 L625.3 1105.4 L615.3 1105.4 L605.2 1110.4 L595.2 1117.9 L587.7 1123 L582.2 1126.1Z" fill="#e6e9f8" stroke="#e6e9f8" stroke-width="0.8"/>
<path d="M349.5 1117.9 L360.1 1107.3 L367.6 1092.3 L374.3 1089.3 L377.4 1064.2 L383.7 1051.7 L379 1036 L369.6 1014.1 L363.3 995.2 L355.5 976.4 L344.5 967 L328.8 954.5 L314.7 945 L311.5 930.9 L319.4 926.2 L338.2 926.2 L350.8 929.4 L369.6 934.1 L383.7 937.2 L385.3 919.9 L382.1 902.7 L393.1 902.7 L397.8 913.7 L410.4 916.8 L422.9 913.7 L432.3 905.8 L451.1 898 L460.5 888.6 L463.7 872.9 L473.1 866.6 L484.4 864.2 L485.6 873 L491.3 876.1 L496.3 876.8 L500.1 884.3 L506.3 886.8 L508.9 892.4 L517.6 903.1 L520.2 905.6 L527.7 905.6 L530.8 901.9 L532.1 909.4 L536.5 914.4 L542.7 919.4 L545.2 923.8 L554 923.2 L561.6 925.7 L569.1 927.3 L573.1 933.4 L583.2 938.4 L592.2 939.4 L600.2 942.4 L606.2 944.4 L602.2 950.4 L597.2 958.4 L593.2 968.5 L590.2 980.5 L590.2 993.6 L583.2 996.6 L577.1 998.6 L575.1 1006.6 L568.1 1012.6 L564.1 1018.7 L559.1 1024.7 L554.1 1032.7 L551 1040.8 L556.1 1034.7 L564.1 1030.7 L570.1 1030.7 L572.1 1036.7 L572.1 1044.8 L574.1 1051.8 L570.1 1053.8 L572.1 1057.8 L577.1 1062.8 L575.1 1068.9 L568.1 1070.9 L565.1 1077.9 L570.1 1080.9 L573.1 1086.9 L571.1 1095 L573.1 1103 L578.1 1110 L585.2 1111 L589.2 1114 L585.2 1120.1 L582.2 1126.1 L570.1 1130.5 L560.1 1140.5 L550 1143 L540 1145.5 L546.8 1143.5 L531.7 1140.5 L516.6 1135.9 L501.6 1129.9 L483.5 1134.4 L474.5 1140.5 L470 1152.5 L471.5 1163.9 L456.4 1164.5 L444.4 1161.5 L435.3 1158.5 L429.3 1154 L420.3 1146.5 L412.7 1143.5 L408.2 1149.5 L399.2 1146.5 L384.1 1142 L372.1 1135.9 L360.1 1129.9 L357 1122.4 L349.5 1117.9Z" fill="#e6e9f8" stroke="#e6e9f8" stroke-width="0.8"/>
<path d="M162.8 1126.9 L167.3 1116.4 L170.3 1107.3 L164.3 1101.3 L162.8 1093.8 L170.3 1086.2 L182.4 1078.7 L197.4 1075.7 L209.5 1078.7 L221.5 1084.7 L236.6 1089.3 L254.7 1093.8 L272.7 1099.8 L290.8 1104.3 L308.9 1107.3 L329.9 1111.8 L349.5 1117.9 L357 1122.4 L360.1 1129.9 L372.1 1135.9 L384.1 1142 L399.2 1146.5 L408.2 1149.5 L412.7 1143.5 L420.3 1146.5 L429.3 1154 L435.3 1158.5 L444.4 1161.5 L456.4 1164.5 L471.5 1163.9 L473 1173.6 L468.5 1185.6 L456.4 1194.7 L441.4 1200.7 L426.3 1203.7 L411.2 1208.2 L402.2 1217.2 L393.2 1230.8 L381.1 1242.8 L373.6 1254.9 L370.6 1266.9 L376.6 1279 L379.6 1285 L366.1 1291 L357 1300.1 L348 1312.1 L332.9 1321.1 L317.9 1333.2 L305.8 1340.7 L290.8 1337.7 L272.7 1336.2 L257.7 1334.7 L245.6 1333.2 L230.6 1336.2 L218.5 1342.2 L209.5 1348.2 L203.5 1345.2 L195.9 1334.7 L192.9 1324.1 L186.9 1315.1 L179.4 1306.1 L167.3 1300.1 L165.8 1299.4 L164.3 1288 L170.3 1279 L179.4 1269.9 L183.9 1266.9 L177.9 1257.9 L180.9 1247.4 L188.4 1236.8 L183.9 1224.8 L182.4 1215.7 L194.4 1212.7 L198.9 1197.7 L203.5 1191.6 L205 1173.6 L212.5 1164.5 L226 1157 L220 1149.5 L220 1140.5 L206.5 1137.4 L200.5 1138.9 L191.4 1134.4 L180.9 1134.4 L177.9 1125.4 L162.8 1126.9Z" fill="#93a3df" stroke="#93a3df" stroke-width="0.8"/>
<path d="M162.8 1126.9 L161.3 1140.5 L158.9 1155.5 L155.3 1170.6 L147.8 1188.6 L140.2 1203.7 L131.2 1215.7 L123.7 1227.8 L122.2 1232.3 L132.7 1233.8 L129.7 1239.8 L134.2 1248.9 L132.7 1260.9 L129.7 1276 L125.2 1288 L123.7 1292.5 L137.2 1294 L152.3 1298.5 L165.8 1299.4 L164.3 1288 L170.3 1279 L179.4 1269.9 L183.9 1266.9 L177.9 1257.9 L180.9 1247.4 L188.4 1236.8 L183.9 1224.8 L182.4 1215.7 L194.4 1212.7 L198.9 1197.7 L203.5 1191.6 L205 1173.6 L212.5 1164.5 L226 1157 L220 1149.5 L220 1140.5 L206.5 1137.4 L200.5 1138.9 L191.4 1134.4 L180.9 1134.4 L177.9 1125.4 L162.8 1126.9Z" fill="#c2caee" stroke="#c2caee" stroke-width="0.8"/>
<path d="M277.9 696.6 L282.4 689.9 L290.3 686.5 L301.6 686.5 L310.7 687.6 L305 693.2 L299.4 697.8 L291.5 703.4 L293.7 705.7 L285.8 707.9 L288.1 715.8 L292.6 720.4 L299.4 721.5 L302.8 717 L306.1 718.1 L308.4 724.9 L310.7 729.4 L317.4 730.5 L315.2 740.7 L316.3 752 L314.1 763.3 L310.7 774.6 L306.1 783.6 L300.5 793.8 L290.3 792.6 L276.8 794.9 L263.2 797.1 L249.7 801.7 L236.1 802.8 L226 800.5 L222.6 794.9 L218.1 785.8 L222.6 782.5 L219.2 774.6 L229.4 772.3 L237.3 768.9 L239.5 764.4 L245.2 758.7 L254.2 749.7 L248.6 745.2 L240.7 740.7 L237.3 733.9 L242.9 727.1 L245.2 720.4 L244 711.3 L247.4 706.8 L256.5 707.9 L267.8 710.2 L276.8 709.1 L283.6 706.8 L279 702.3Z" fill="#6880d5"/>
<path d="M619.5 738.6 L621.8 731.6 L617.3 726 L612.7 719.2 L611.6 709 L613.9 702.3 L612.7 693.2 L612.7 683.1 L615 675.2 L616.1 668.4 L621.8 663.9 L628.6 661.6 L635.3 659.4 L639.8 652.6 L645.5 646.9 L652.3 644.1 L655.1 644.7 L655.7 652.6 L654.5 660.5 L652.3 668.4 L653.4 676.3 L659 679.7 L663.6 684.2 L664.1 691 L659 694.4 L657.9 698.9 L663.6 702.3 L663.6 723.7 L659 727.1 L652.3 729.4 L647.8 733.9 L643.2 737.3 L635.3 742.4 L629.7 741.2Z" fill="#e6e9f8"/>
<path d="M648.9 723.7 L659 722.6 L662.4 726 L663.6 731.6 L661.3 738.4 L656.8 740.7 L651.1 735.0Z" fill="#e6e9f8"/>
<path d="M671.5 709 L677.1 704.5 L685 703.4 L688.4 698.9 L694.1 697.8 L696.3 703.4 L699.7 711.3 L698.6 719.2 L692.9 723.7 L691.8 729.4 L691.8 737.3 L687.3 742.9 L681.6 745.2 L674.9 746.3 L670.3 742.9 L673.7 737.3 L679.4 736.1 L681.6 731.6 L677.1 726 L671.5 720.3 L669.8 714.7Z" fill="#e6e9f8"/>
<path d="M741.5 724.3 L746 725.4 L749.4 729.4 L746 731.1 L742.6 728.2Z" fill="#e6e9f8"/>
<path d="M777.1 650.3 L779.6 652.8 L773.3 677.9 L770.8 685.5 L770.3 677.9 L774.6 660.4Z" fill="#93a3df"/>
<path d="M806 627.8 L811 630.3 L812.2 637.8 L808.5 650.3 L803.5 656.6 L800.9 652.8 L802.2 640.3Z" fill="#93a3df"/>
<path d="M866.4 580.8 L874 575.3 L879 581.6 L875.2 586.6 L870.2 585.3Z" fill="#1b256e"/>
<path d="M863.2 601.6 L874 594.1 L884 589.1 L885.7 591.6 L880.2 599.1 L870.2 610.4 L866.4 606.6Z" fill="#1b256e"/>
<path d="M441.4 1260.9 L450.4 1254.9 L460.9 1251.9 L470 1257.9 L467 1265.4 L459.4 1271.4 L451.9 1266.9Z" fill="#93a3df"/>
<path d="M480.5 1250.4 L491 1248.3 L493.1 1252.5 L483.5 1254.3Z" fill="#93a3df"/>
<path d="M408.2 1277.5 L417.3 1274.5 L418.8 1279 L411.2 1282.6Z" fill="#93a3df"/>
<path d="M612.8 1173.1 L620.3 1165.6 L627.8 1163.1 L630.3 1155.6 L633.4 1160.6 L632.8 1175.7 L634.9 1190.7 L631.6 1200.8 L626.6 1207 L620.3 1203.3 L615.3 1193.2 L612.8 1183.2Z" fill="#e6e9f8"/>
<path d="M601.5 1225.8 L610.3 1223.3 L622.8 1218.3 L630.3 1214.6 L637.9 1220.8 L636.6 1230.9 L640.4 1240.9 L639.1 1253.5 L637.9 1271 L635.4 1283.6 L625.3 1286.1 L617.8 1292.3 L609 1291.1 L604 1281.1 L605.2 1266 L606.5 1250.9 L600.2 1240.9 L600.2 1230.9Z" fill="#e6e9f8"/>
<path d="M715.7 1326.2 L725.7 1321.2 L735.7 1317.4 L745.8 1319.9 L758.3 1322.5 L770.9 1319.9 L785.9 1316.2 L798.5 1312.4 L799.7 1318.7 L793.5 1328.7 L790.9 1338.8 L792.2 1351.3 L790.9 1363.9 L780.9 1362.6 L770.9 1356.3 L758.3 1350.1 L745.8 1343.8 L733.2 1338.8 L723.2 1336.3 L716.9 1331.2Z" fill="#e6e9f8"/>
<path d="M1280.6 1332.3 L1288.5 1326 L1301 1319.8 L1310.4 1316.6 L1319.8 1310.4 L1329.3 1300.9 L1335.5 1294.7 L1332.4 1302.5 L1326.1 1310.4 L1327.7 1319.8 L1319.8 1326 L1310.4 1330.7 L1304.2 1337 L1294.8 1340.2 L1285.3 1338.6Z" fill="#e6e9f8"/>
<path d="M767.1 1389.5 L772.1 1391.5 L777.1 1396.5 L773.4 1397 L768.4 1392.7Z" fill="#93a3df"/>
<path d="M1034.3 1380.3 L1038.1 1374.7 L1045.6 1375.6 L1050.3 1372.8 L1055 1378.4 L1064.4 1376.5 L1073.9 1373.7 L1085.1 1374.7 L1092.7 1372.8 L1096.4 1376.5 L1105.8 1373.7 L1110.6 1371.8 L1111.1 1376.5 L1104 1380.3 L1096.4 1383.1 L1087 1385 L1077.6 1388.8 L1070.1 1387.8 L1068.2 1384.1 L1056.9 1385 L1045.6 1385 L1036.2 1385.0Z" fill="#6880d5"/>
<path d="M1004.2 1261.7 L1015.5 1265.5 L1030.6 1273 L1043.7 1285.3 L1041.9 1288.1 L1028.7 1280.6 L1015.5 1274.9 L1009.9 1270.2 L1004.2 1264.6Z" fill="#6880d5"/>
<path d="M1030.6 1193 L1035.3 1192.1 L1036.6 1197.8 L1031.5 1198.7Z" fill="#6880d5"/>
<path d="M1056.9 1196.8 L1061.6 1196.2 L1062 1199.6 L1057.9 1200.0Z" fill="#6880d5"/>
<path d="M1048.4 1217 L1057.9 1216.2 L1056.9 1222.2 L1049.4 1221.8Z" fill="#6880d5"/>
<path d="M1073.9 1238.2 L1079.5 1232.6 L1085.1 1231.6 L1090.8 1235.4 L1093.6 1242.9 L1085.1 1243.9 L1077.6 1241.0Z" fill="#6880d5"/>
<path d="M1079.5 1259.9 L1086.1 1260.8 L1087 1269.3 L1084.2 1273 L1081.4 1267.4Z" fill="#6880d5"/>
<path d="M1104.9 1283.4 L1109.6 1281.5 L1114.3 1283.4 L1111.5 1286.2 L1105.8 1286.2Z" fill="#6880d5"/>
<path d="M1089.8 1291.3 L1094.6 1290.5 L1094.2 1293.7 L1089.3 1294.1Z" fill="#6880d5"/>
<path d="M1146.3 1329.5 L1151 1323.9 L1156.7 1320.1 L1154.8 1329.5 L1149.1 1338.9 L1146.9 1335.1Z" fill="#6880d5"/>
<path d="M1122.8 1310.3 L1128.4 1309.7 L1128.1 1313.5 L1123.2 1313.5Z" fill="#6880d5"/>
<path d="M1074.8 1311.6 L1079.5 1310.7 L1080.4 1316.3 L1076.7 1318.8Z" fill="#6880d5"/>
<path d="M1067.3 1314.1 L1071.6 1313.5 L1072 1317.8 L1067.8 1318.2Z" fill="#6880d5"/>
<path d="M1052.2 1288.5 L1058.8 1289.6 L1059.7 1293.4 L1054.1 1292.2Z" fill="#6880d5"/>
<path d="M1064.4 1296.6 L1068.2 1296.9 L1067.8 1299.8 L1064.8 1299.4Z" fill="#6880d5"/>
<path d="M1048.4 1330.4 L1052.2 1330.8 L1051.8 1333.3 L1048.6 1333.1Z" fill="#6880d5"/>
<path d="M1130.3 1352.1 L1133.7 1353 L1134.1 1359.6 L1131.3 1358.7Z" fill="#6880d5"/>
<path d="M1011.7 1352.1 L1015.5 1353 L1015.1 1357.7 L1012.1 1356.8Z" fill="#6880d5"/>
<path d="M906.3 1247.6 L912 1247.6 L915.8 1258 L912.9 1256.1 L908.2 1251.4Z" fill="#6880d5"/>
<path d="M936.5 1276.8 L941.2 1277.7 L940.6 1282.8 L937 1282.1Z" fill="#6880d5"/>
<path d="M931.8 1294.7 L938.3 1293.7 L942.1 1301.3 L936.5 1300.3Z" fill="#6880d5"/>
<path d="M940.2 1308.8 L944 1309.7 L947.8 1314.4 L944.9 1313.5Z" fill="#6880d5"/>
<path d="M1039 1256.5 L1044.7 1256.1 L1044.3 1260.8 L1039.6 1260.4Z" fill="#6880d5"/>
<path d="M1096.4 1300.3 L1101.1 1299.4 L1100.6 1302.8 L1096.8 1303.1Z" fill="#6880d5"/>
<path d="M1113.4 1300.3 L1117.5 1299.4 L1117.1 1302.8Z" fill="#6880d5"/>
<path d="M1106.8 1309.7 L1110.6 1309.2 L1110 1312.2Z" fill="#6880d5"/>
<path d="M1088.9 1315.4 L1093.6 1314.4 L1091.7 1319.1Z" fill="#6880d5"/>
<path d="M349.5 1117.9 L357 1122.4 L360.1 1129.9 L372.1 1135.9 L384.1 1142 L399.2 1146.5 L408.2 1149.5 L412.7 1143.5 L420.3 1146.5 L429.3 1154 L435.3 1158.5 L444.4 1161.5 L456.4 1164.5 L471.5 1163.9 M165.8 1299.4 L164.3 1288 L170.3 1279 L179.4 1269.9 L183.9 1266.9 L177.9 1257.9 L180.9 1247.4 L188.4 1236.8 L183.9 1224.8 L182.4 1215.7 L194.4 1212.7 L198.9 1197.7 L203.5 1191.6 L205 1173.6 L212.5 1164.5 L226 1157 L220 1149.5 L220 1140.5 L206.5 1137.4 L200.5 1138.9 L191.4 1134.4 L180.9 1134.4 L177.9 1125.4 L162.8 1126.9 M484.4 864.2 L485.6 873 L491.3 876.1 L496.3 876.8 L500.1 884.3 L506.3 886.8 L508.9 892.4 L517.6 903.1 L520.2 905.6 L527.7 905.6 L530.8 901.9 L532.1 909.4 L536.5 914.4 L542.7 919.4 L545.2 923.8 L554 923.2 M554 923.2 L561.6 925.7 L569.1 927.3 M569.1 927.3 L573.1 933.4 L583.2 938.4 L592.2 939.4 L600.2 942.4 L606.2 944.4 L602.2 950.4 L597.2 958.4 L593.2 968.5 L590.2 980.5 L590.2 993.6 M590.2 993.6 L583.2 996.6 L577.1 998.6 L575.1 1006.6 L568.1 1012.6 L564.1 1018.7 L559.1 1024.7 L554.1 1032.7 L551 1040.8 L556.1 1034.7 L564.1 1030.7 L570.1 1030.7 L572.1 1036.7 L572.1 1044.8 L574.1 1051.8 M574.1 1051.8 L570.1 1053.8 L572.1 1057.8 L577.1 1062.8 L575.1 1068.9 L568.1 1070.9 L565.1 1077.9 L570.1 1080.9 L573.1 1086.9 L571.1 1095 L573.1 1103 L578.1 1110 L585.2 1111 L589.2 1114 L585.2 1120.1 L582.2 1126.1 M503.2 856.7 L507 858.6 L512.6 861.1 L517.6 858.6 L522.7 857.3 L527.1 855.4 L532.7 854.2 L539 856.1 L541.5 860.5 L546.5 864.2 L551.5 866.7 L555.3 871.7 L554 878 L555.3 881.8 L558.4 881.8 M558.4 881.8 L562.8 886.8 L566.6 895.6 L561.6 901.9 L560.3 905.6 M560.3 905.6 L555.3 908.1 L552.8 914.4 L555.3 919.4 L554 923.2 M560.3 905.6 L562.8 911.9 L567.8 914.4 L570.3 918.2 L569.1 927.3 M589.2 796.5 L588.5 805.2 L586.6 811.5 L584.1 816.5 L578.5 817.8 L577.9 821.6 L583.5 822.8 L584.1 830.3 L579.1 834.1 L577.9 840.4 L572.8 844.1 L567.8 846.6 L565.3 852.9 L565.3 860.5 L562.2 865.5 L557.8 871.7 L560.3 876.8 L558.4 881.8 M619.5 738.6 L629.7 741.2 L635.3 742.4 M733 771.7 L735.8 780.2 L738.1 788.1 L738.7 796 L735.8 802.8 L734.7 810 L737 810.9 L743.2 818.5 L744.5 831 L748.2 841.1 L750.8 853.6 L752.8 856.1 L756.8 862.1 L753.8 870.1 L750.8 877.1 M750.8 877.1 L748.8 873.1 L744.8 871.1 L740.8 876.1 L732.7 880.2 L724.7 885.2 L716.7 888.2 L712.6 893.2 L702.6 894.2 L694.6 899.2 L698.6 906.2 L702.6 910.3 L703.6 916.3 L708.6 924.3 L714.7 930.3 L720.7 936.4 L728.7 944.4 L734.7 950.4 M734.7 950.4 L734.7 956.4 L728.7 958.4 L724.7 964.5 L718.7 969.5 L711.6 974.5 L714.7 980.5 L717.7 986.5 L718.7 993.6 L714.7 992.6 L712.6 989.6 L704.6 990.6 L696.6 992.6 L688.6 995.6 L680.5 998.6 L674.5 997.6 L670.5 1000.6 L664.5 995.6 L658.4 995.6 L656.4 1000.6 L652.4 1002.6 L648.4 995.6 L640.4 995.6 L638.4 994.6 M638.4 994.6 L632.3 992.6 L624.3 991.6 L617.3 990.6 L615.3 987.6 L612.3 989.6 L610.3 991.6 L600.2 993.6 L590.2 993.6 M638.4 994.6 L636.4 1000.6 L635.4 1006.6 L638.4 1010.6 L644.4 1012.6 L652.4 1014.7 L658.4 1016.7 M658.4 1016.7 L656.4 1022.7 L658.4 1028.7 L654.4 1027.7 L652.4 1032.7 L649.4 1038.7 L646.4 1034.7 L642.4 1031.7 L636.4 1030.7 L632.3 1033.7 L629.3 1040.8 L624.3 1046.8 L622.3 1053.8 L619.3 1046.8 L614.3 1040.8 L610.3 1034.7 L606.2 1035.7 L602.2 1040.8 L596.2 1046.8 L588.2 1048.8 L580.2 1050.8 L574.1 1051.8 M734.7 950.4 L740.8 952.4 L746.8 955.4 L754.8 952.4 L757.8 946.4 L762.8 941.4 L772.9 943.4 L782.9 944.4 L792.9 945.4 L801 948.4 L807 946.4 M807 946.4 L806 956.4 L810 964.5 M810 964.5 L814 972.5 L812 980.5 L805 982.5 L800 984.5 L801 992.6 L799 1002.6 L798 1010.6 M798 1010.6 L790.9 1014.7 L788.9 1018.7 L780.9 1020.7 L772.9 1022.7 L764.8 1025.7 L756.8 1028.7 L746.8 1027.7 L736.7 1026.7 M736.7 1026.7 L724.7 1024.7 L714.7 1023.7 L706.6 1020.7 L700.6 1014.7 L698.6 1011.6 L690.6 1013.7 L680.5 1014.7 L674.5 1016.7 L670.5 1020.7 L664.5 1019.7 L658.4 1016.7 M736.7 1026.7 L733.7 1032.7 L737.7 1034.7 L735.7 1042.8 L738.7 1048.8 L735.7 1054.8 L737.7 1059.8 M798 1010.6 L801 1016.7 L803 1022.7 M803 1022.7 L797 1025.7 L792.9 1030.7 L786.9 1034.7 L783.9 1040.8 L784.9 1046.8 L779.9 1052.8 L776.9 1057.8 L775.9 1062.8 L766.9 1060.8 L758.8 1059.8 L752.8 1062.8 L744.8 1061.8 L740.8 1063.8 L735.7 1064.8 M803 1022.7 L810.4 1029.1 L821.5 1037.3 L835.3 1044.2 L849.1 1045.6 L862.9 1040.1 M862.9 1040.1 L865.6 1048.4 L869.8 1056.7 L876.7 1062.2 L872.5 1064.9 M872.5 1064.9 L862.9 1070.5 L849.1 1067.7 L838 1070.5 L824.2 1067.7 L810.4 1070.5 L802.1 1076 L792.5 1071.8 L789.7 1078.7 L793.9 1089.8 L799.4 1098.1 L810.4 1109.1 L821.5 1122.9 L832.5 1134 L843.5 1145 L854.6 1151.9 L865.6 1157.4 M810 964.5 L818.7 973.9 L832.5 978 L850.4 972.5 L854.6 965.6 L865.6 958.7 L876.7 957.3 L882.2 949 L893.2 942.1 L907 939.3 L918.1 943.5 L926.3 939.3 M926.3 939.3 L934.6 946.2 L945.7 953.1 M945.7 953.1 L940.2 960.1 L931.9 968.3 L926.3 982.1 L920.8 995.9 L918.1 1009.7 L907 1018 L898.7 1026.3 M898.7 1026.3 L879.4 1029.1 L871.1 1034.6 L862.9 1040.1 M807 946.4 L811 941.4 L819 938.4 L825.1 934.4 L829.1 928.3 L833.1 922.3 L839.1 917.3 L845.1 911.3 M845.1 911.3 L858.7 910.4 L864.2 915.9 L876.7 921.4 L887.7 917.3 L898.7 911.7 L913.9 909 L923.6 913.1 L934.6 915.9 L938.8 918.6 M938.8 918.6 L931.9 924.2 L929.1 935.2 L926.3 939.3 M750.8 877.1 L755.8 876.1 L760.8 872.1 L765.8 877.1 L772.9 880.2 L780.9 881.2 L786.9 883.2 L789.9 890.2 L796 898.2 L801 894.2 L802 888.2 L809 890.2 L814 893.2 L819 892.2 L820.1 896.2 L825.1 899.2 L835.1 900.2 L841.1 906.2 L845.1 911.3 M846.1 740.7 L876.2 739.4 L901.3 736.9 L910.3 734.6 M910.3 734.6 L919.1 739.6 L924.1 745.9 M924.1 745.9 L927.9 756 L934.2 768.5 L937.9 778.5 L936.7 791.1 L930.4 798.6 L928.4 804.9 L935.4 811.2 L939.2 819.9 L940.5 826.2 M940.5 826.2 L943 833.8 L951.7 846.3 L956.8 856.3 L955.5 863.9 L945.5 876.4 L937.9 889 L932.9 900 L938.8 918.6 M871.4 710.8 L882.7 713.3 L895.3 713.3 L901.6 719.6 L904.1 728.4 L910.3 734.6 M924.1 745.9 L932.9 743.4 L943 740.9 L949.2 734.6 L960.5 729.6 L965.5 728.4 L961.8 718.3 L963 708.3 L968.1 698.2 L975.6 690.7 L976.8 687 L971.8 684.4 L971.8 674.4 M971.8 674.4 L963 670.6 L953 665.6 L940.5 663.1 L931.7 658.1 L922.9 664.4 L912.8 663.1 L900.3 665.6 L887.8 666.9 L875.2 670.6 L867.7 675.7 L862.7 681.9 M911.6 609.2 L920.4 604.1 L927.9 601.6 L935.4 602.9 L945.5 606.6 L953 611.7 L960.5 609.2 L973.1 608.4 M973.1 608.4 L979.3 612.9 L980.6 620.5 L979.3 629.2 L985.6 633 L993.1 641.8 L996.2 651.8 M996.2 651.8 L990.6 655.6 L986.9 665.6 L980.6 668.1 L971.8 674.4 M964.3 541.4 L966.8 548.9 L963.5 554 L960.5 562.7 L963 572.8 L966.8 580.3 L971.8 592.8 L970.6 601.6 L973.1 608.4 M780.3 239.7 L793.2 248.6 L806.3 257.4 L819.5 266.1 L825 272.7 L827.2 283.7 L831.6 290.3 L836 305.7 L839.3 316.6 L845.9 332 L849.2 339.7 M780.3 239.7 L784.1 236.9 L786 230.3 L788.8 228.5 L795.4 232.2 L804.8 242.6 L816.1 246.3 L823.9 239.3 L838.2 243.7 L840.4 235.4 L843.7 226.6 L842.6 217.8 L841.5 198.1 L845.9 193.7 L852.5 192.6 L859.5 185.6 L867.8 190.4 L876.6 194.8 L880.6 200.3 L881.4 206.9 L880.6 214.5 L883.2 216.7 M883.2 216.7 L881.4 220 L882.1 226.6 L885.4 239.8 L898.6 249.7 L909.5 259.5 L910.6 266.1 L906.3 283.7 L916.1 296.9 L924.9 307.9 L932.6 321 L929.3 327.6 L932.6 338.6 L935.9 345.2 L934.8 351.8 L942.5 354 L945.8 364.9 L953.5 369.3 L956.8 378.1 L953.5 386.9 L966.6 395.7 L977.6 402.3 L985.3 408.9 L984.2 422 L977.6 444 L968.8 465.9 L962.2 480 L961.1 484.5 L948.6 504.8 M780.3 239.7 L776.5 242.6 L776.5 260.5 L772.8 262.3 L754 259.5 L751.1 275.5 L749.3 278.3 L738.9 279.3 L730.4 300 L734.2 309.4 L725.7 332 L723.9 339.5 L720.1 344.2 L712.6 347 L713.5 365.8 L711.6 380.9 L703.1 401.6 L709.7 411 L707.9 418.5 L695.6 420.4 L686.2 428 L681.5 440 L678.7 440 L679.4 448.3 L682.2 459.3 L680.8 469 L684.2 481.4 L683.5 499.3 L686.3 506.2 L691.8 507.6 L694.6 514.5 L693.2 524.2 L686.3 527 L689.1 535.2 L692.5 543.5 L691.1 560.1 L687.7 564.2 L680.1 567.7 L680.8 572.5 L678 578 L679.4 586.3 L677.3 593.2 L676.6 599.4 L673.9 600.1 M945.7 953.1 L954 951.8 L965 950.4 L976 949 L984.3 946.2 L992.6 953.1 L1000.9 946.2 L1011.9 943.5 L1020.2 939.3 L1028.5 929.7 L1035.4 926.9 M1035.4 926.9 L1042.3 931.1 L1050.6 939.3 L1058.8 949 L1067.1 960.1 L1075.4 971.1 L1080.9 982.1 L1085.1 993.2 L1086.4 1004.2 L1089.2 1013.9 M1089.2 1013.9 L1097.5 1015.3 L1108.5 1009.7 L1119.6 1007 L1125.1 1012.5 M1108 1070.5 L1097.5 1067.7 L1086.4 1066.3 L1069.9 1070.5 L1056.1 1076 L1045 1084.3 L1031.2 1091.2 L1014.7 1093.9 L998.1 1093.9 L984.3 1095.3 L973.3 1095.3 L969.1 1089.8 L962.2 1085.6 M962.2 1085.6 L959.5 1078.7 L955.3 1070.5 L948.4 1067.7 L941.5 1070.5 L934.6 1062.2 L929.1 1064.9 L920.8 1056.7 L912.5 1045.6 L907 1037.3 L898.7 1026.3 M1110.3 1133.2 L1105.2 1135.1 L1100.2 1137 L1095.2 1134.5 L1090.2 1133.6 L1085.2 1136.4 L1080.2 1140.2 L1075.1 1143.9 L1071.4 1147.7 L1070.1 1151.4 M1070.1 1151.4 L1065.1 1152.7 L1066.3 1160.2 L1067.6 1162.7 L1062.6 1166.5 L1055.1 1169.6 L1045 1172.1 L1030.6 1170.5 L1023 1166.7 L1011.7 1170.5 L996.7 1176.1 L984.5 1180.8 M984.5 1180.8 L982.9 1167.1 L976 1153.3 L967.8 1145.0 M967.8 1145 L965 1136.7 L966.4 1128.4 L974.7 1120.2 L973.3 1114.6 L965 1103.6 L958.1 1092.5 L962.2 1085.6 M984.5 1180.8 L981.6 1183.6 L974.1 1190.2 L962.8 1194 L959 1197.8 L947.8 1202.5 L937.4 1205.3 M937.4 1205.3 L940.2 1216.6 L934.6 1226 L927.1 1235.4 L924.2 1242.9 L921.4 1250.5 M1070.1 1151.4 L1073.9 1152.7 L1077.6 1155.2 L1079.5 1160.9 L1076.4 1165.2 L1073.9 1169 L1074.5 1175.3 L1071.4 1182.8 L1069.1 1187.2 M310.7 687.6 L305 693.2 L299.4 697.8 L291.5 703.4 L293.7 705.7 L285.8 707.9 L288.1 715.8 L292.6 720.4 L299.4 721.5 L302.8 717 L306.1 718.1 L308.4 724.9 L310.7 729.4 L317.4 730.5" fill="none" stroke="#0b1248" stroke-width="1.5" stroke-linejoin="round" stroke-linecap="round"/>
<path d="M996.2 651.8 L1005.7 650.6 L1013.2 653.1 L1020.8 651.8 L1025.8 659.3 L1035.8 651.8 L1045.8 653.1 L1053.4 658.1 L1055.9 668.1 L1059.6 675.7 L1060.9 683.2 L1070.9 693.2 L1081 700.8 L1086 708.3 L1098.5 708.3 L1106.1 713.3 L1111.1 719.6 L1106.1 725.8 L1099.8 732.1 L1091 733.4 L1087.3 739.6 L1093.5 748.4 L1098.5 758.5 L1104.8 766.0 M1104.8 766 L1096 769.8 L1089.8 776 L1086 791.1 L1089.8 801.1 L1081 797.4 L1073.5 801.1 L1065.9 799.9 L1062.2 804.9 L1055.9 799.9 L1045.8 804.9 L1038.3 803.6 L1028.3 807.4 L1027 811.2 L1020.8 808.7 L1013.2 805.6 L995.7 806.1 L983.1 807.4 L970.6 809.9 L958 813.7 L951.7 821.2 L945.5 826.2 L940.5 826.2 M1104.8 766 L1113.6 764.7 M1114.4 765.9 L1116 756.5 L1128.5 754.9 L1134.8 748.6 L1144.2 746.4 L1152 754.9 L1161.4 759.6 L1159.9 767.4 L1166.1 776.9 L1181.8 775.3 L1191.2 778.4 L1197.5 789.4 L1203.8 797.9 L1211.6 792.5 L1219.5 794.1 L1228.9 791 L1238.3 782.2 L1247.7 786.3 L1258.7 791 L1261.8 786.3 L1279.1 787.2 L1282.2 784.7 L1294.8 787.8 L1307.3 785.3 L1312 797.2 L1307.3 808.2 L1313.6 812.9 L1310.4 819.2 L1318.3 828.6 L1321.4 833.3 L1321.4 845.9 L1313.6 850.6 L1302.6 855.3 L1301 863.1 L1295.4 871 L1297.9 883.5 M1035.4 926.9 L1034 921.4 L1045 917.3 L1051.9 914.5 L1058.8 918.6 L1069.9 917.3 L1078.2 922.8 L1090.6 921.4 L1094.7 929.7 L1097.5 938 L1105.8 946.2 L1108.5 954.5 L1116.8 960.1 L1121 969.7 L1111.3 972.5 L1098.9 973.9 L1097.5 982.1 L1100.3 990.4 L1094.7 998.7 L1092 1007 L1089.2 1013.9 M872.5 1064.9 L876.7 1073.2 L873.9 1084.3 L875.3 1092.5 L882.2 1098.1 L880.8 1106.3 L884.9 1114.6 L876.7 1120.2 L875.3 1128.4 L865.6 1138.1 L864.2 1150.5 L865.6 1157.4 M876.7 1120.2 L884.9 1117.4 L893.2 1128.4 L904.3 1136.7 L909.8 1139.5 L904.3 1145 L905.6 1151.9 L898.7 1149.1 L894.6 1153.3 L890.5 1161.6 L887.7 1167.1 L890.5 1176.7 M909.8 1139.5 L918.1 1125.7 L923.6 1122.9 L929.1 1131.2 L940.2 1134 L947.1 1139.5 L945.7 1151.9 L937.4 1157.4 L934.6 1161.6 L926.3 1164.3 L920.8 1158.8 L915.3 1153.3 L905.6 1151.9 M945.7 1151.9 L959.5 1149.1 L967.8 1145.0 M926.3 1164.3 L923.6 1172.6 L920.8 1180.9 L923.6 1191.9 L929.1 1203.0 M1385.7 987 L1387.3 979.2 L1407.7 976 L1423.4 972.9 L1439 968.2 L1454.7 966 L1470.4 968.2 L1483 972.9 L1492.4 963.5 L1504.9 957.2 L1514.3 955.6 L1528.4 954.1 L1531.6 965.1 L1552 965.1 L1570.8 966.6 L1594 972.9 M1446.9 1032.5 L1461 1026.2 L1473.5 1018.4 L1486.1 1023.1 L1495.5 1024.7 L1511.2 1015.2 L1530 1001.1 L1536.3 993.3 L1555.1 990.2 L1567.7 987 L1569.2 979.2 L1555.1 972.9 L1552 965.1 M1495.5 1024.7 L1508.1 1032.5 L1511.2 1045 L1520.6 1054.5 L1545.7 1054.5 L1558.2 1048.2 L1573.9 1046.6 L1583.3 1054.5 L1594 1060.7 M1530 1001.1 L1545.7 1010.5 L1552 1019.9 L1564.5 1023.1 L1570.8 1035.6 L1594 1040.3 M1545.7 1054.5 L1541 1063.9 L1536.3 1073.3 L1545.7 1085.8 L1558.2 1101.5 L1561.4 1117.2 L1573.9 1123.5 L1581.8 1134.4 L1577.1 1145.4 M1370 1274.3 L1377.9 1273.3 L1379.4 1260.2 L1385.7 1253.9 L1382.6 1246 L1379.4 1238.2 L1390.4 1236.6 L1407.7 1228.8 L1423.4 1217.8 L1442.2 1216.2 L1454.7 1210 L1470.4 1197.4 L1483 1184.9 L1501.8 1177 L1511.2 1169.2 L1522.2 1163.6 L1528.4 1153.5 L1545.7 1147.2 L1564.5 1141 L1570.8 1145.7 L1583.3 1136.3 L1594 1144.1 M1522.2 1163.6 L1517.5 1181.7 L1509.6 1194.3 L1506.5 1206.8 L1514.3 1219.4 L1520.6 1238.2 L1522.2 1257 L1520.6 1269.6 L1501.8 1294.7 L1486.1 1313.5 L1473.5 1329.2 L1451.6 1360.5 M1384.2 1315.1 L1395.1 1311.9 L1399.8 1316.6 L1406.1 1326 L1399.8 1338.6 L1395.1 1348 L1396.7 1357.4 L1388.9 1365.2 L1376.3 1373.1 M1473.5 1329.2 L1489.2 1354.3 L1492.4 1362.1 L1498.6 1360.5 L1520.6 1359.0 M1387.3 1365.2 L1388.9 1376.2 L1395.1 1382.5 L1407.7 1384.1 L1429.6 1382.5 M1594 555.3 L1585 579.8 L1566.1 580.9 L1556.7 581.7 L1562.4 596.8 L1551.1 587.3 L1528.5 584.7 L1517.2 593 L1500.3 590 L1494.6 600.5 L1483.3 608 L1473.9 609.9 L1472 630.6 L1462.6 643.8 L1464.5 657 L1456.2 672 L1470.2 683.3 L1464.5 692.7 L1440 684.1 L1437.4 694.6 M1439 700 L1435.9 709.4 L1442.2 723.5 L1450 729.8 L1450 743.9 L1453.2 758 L1467.3 758 L1473.5 767.4 L1479.8 770.6 L1483 765.9 L1498.6 762.1 L1514.3 772.1 L1528.4 783.1 L1523.7 789.4 L1528.4 792.5 L1545.7 792.5 M609 1362.6 L605.2 1371.4 L599 1376.4 L601.5 1386.4 L599 1400.0 M883.2 216.7 L884.3 206.9 L889.8 198.1 L890.9 192.6 L899.7 194.1 L900.3 189.3 L898.1 185.6" fill="none" stroke="#181818" stroke-width="1.35" stroke-linejoin="round"/>
<rect x="1060" y="130" width="534" height="60" fill="url(#gtop)"/>
<rect x="1545" y="130" width="49" height="1280" fill="url(#gright)"/>
<rect x="1290" y="1340" width="304" height="70" fill="url(#gbot)"/>
<rect x="1293" y="313" width="148" height="158" fill="#fff"/>
<path d="M1317.8 353.6 L1321.8 351.7 L1327.4 350.8 L1333.1 351.4 L1338.7 353.1 L1344.4 355.3 L1350 358.2 L1353.4 361 L1354 363.8 L1350 365.5 L1345.5 366.6 L1343.2 368.3 L1338.7 368.9 L1334.2 367.8 L1329.7 368.3 L1325.2 366.1 L1321.8 364.4 L1319.5 363.2 L1319 358.7Z" fill="#93a3df"/>
<path d="M1350 368.3 L1353.4 367.5 L1357.9 369.1 L1356.8 370.6 L1353.4 371.1Z" fill="#93a3df"/>
<path d="M1352.3 380.7 L1355.1 377.9 L1359 376.2 L1363.6 374.5 L1364.1 376.2 L1361.3 379 L1360.7 381.3 L1364.7 382.4 L1368.1 381.9 L1370.3 384.7 L1373.7 386.4 L1378.2 384.7 L1381.6 385.8 L1386.1 388.1 L1391.8 391.5 L1395.2 396 L1398.6 399.4 L1399.7 401.6 L1404.2 400.5 L1409.9 403.9 L1413.8 407.3 L1414.9 411.2 L1413.8 416.3 L1412.1 421.4 L1409.9 419.7 L1407.6 423.1 L1408.2 425.3 L1403.1 426.5 L1397.4 424.8 L1391.8 423.7 L1385 422 L1378.2 419.7 L1372.6 416.3 L1367 412.4 L1361.3 408.4 L1357.9 405 L1355.7 401.1 L1357.4 396 L1356.8 390.3 L1357.9 385.8 L1355.7 382.4Z" fill="#93a3df"/>
<g class="lab"><text x="906" y="470">1.0</text><text x="743" y="603">2.0</text><text x="927" y="586">3.8</text><text x="949" y="652">2.9</text><text x="918" y="705">2.8</text><text x="645" y="721">0.6</text><text x="277" y="791">2.5</text><text x="552" y="850">2.2</text><text x="525" y="897">1.4</text><text x="585" y="933">1.6</text><text x="654" y="886">2.1</text><text x="848" y="852">2.5</text><text x="768" y="930">1.2</text><text x="871" y="949">4.3</text><text x="756" y="997">2.0</text><text x="865" y="1017">2.3</text><text x="753" y="1056">2.4</text><text x="752" y="1102">3.6</text><text x="1000" y="1039">8.5</text><text x="1036" y="1134">2.3</text><text x="975" y="1306">2.9</text><text x="703" y="1171">1.0</text><text x="474" y="1021">0.4</text><text x="297" y="1228">2.4</text><text x="160" y="1231">1.9</text><text x="1305" y="1362">1.2</text><text x="821" y="1390">2.3</text><text x="1341" y="459">2.3</text></g>
<text x="1295.5" y="338" class="malta">Malta</text>
<path d="M1449.5 1362L1480.4 1362L1409.9 1447.8L1379.1 1447.8Z" fill="url(#gy)"/>
<path d="M1480.4 1362L1515.6 1403.8L1486.2 1404.2L1465 1381Z" fill="url(#gg)"/>
<path d="M1555.2 1320L1586.8 1320L1515.6 1403.8L1500.9 1384.7Z" fill="url(#gb)"/>
<rect x="188.2" y="1404.1" width="40.7" height="27.7" fill="#0e3da6"/>
<circle cx="208.5" cy="1409.0" r="1.3" fill="#f7d117"/>
<circle cx="213.0" cy="1410.2" r="1.3" fill="#f7d117"/>
<circle cx="216.3" cy="1413.5" r="1.3" fill="#f7d117"/>
<circle cx="217.5" cy="1418.0" r="1.3" fill="#f7d117"/>
<circle cx="216.3" cy="1422.5" r="1.3" fill="#f7d117"/>
<circle cx="213.0" cy="1425.8" r="1.3" fill="#f7d117"/>
<circle cx="208.5" cy="1427.0" r="1.3" fill="#f7d117"/>
<circle cx="204.0" cy="1425.8" r="1.3" fill="#f7d117"/>
<circle cx="200.7" cy="1422.5" r="1.3" fill="#f7d117"/>
<circle cx="199.5" cy="1418.0" r="1.3" fill="#f7d117"/>
<circle cx="200.7" cy="1413.5" r="1.3" fill="#f7d117"/>
<circle cx="204.0" cy="1410.2" r="1.3" fill="#f7d117"/>
</svg>
<div id="title">Annual inflation rates in January 2026</div>
<div id="sub">(%)</div>
<div id="legend"><div class="t">EU = 2.0%, euro area = 1.7%</div>
<div class="r" style="top:45px"><i style="background:#1b256e"></i><span>≥ 3.5</span></div>
<div class="r" style="top:77px"><i style="background:#3a55b0"></i><span>3 – &lt; 3.5</span></div>
<div class="r" style="top:109px"><i style="background:#6880d5"></i><span>2.5 – &lt; 3</span></div>
<div class="r" style="top:141px"><i style="background:#93a3df"></i><span>2 – &lt; 2.5</span></div>
<div class="r" style="top:173px"><i style="background:#c2caee"></i><span>1.5 – &lt; 2</span></div>
<div class="r" style="top:205px"><i style="background:#e6e9f8"></i><span>&lt; 1.5</span></div>
</div>
<div id="logo">eurostat</div>
<div id="foot1">Netherlands and Poland: provisional data<br>Source: Eurostat (dataset code prc_hicp_minr)</div>
<div id="foot2">Administrative boundaries: © EuroGeographics © OpenStreetMap<br>Cartography: Eurostat – IMAGE, 02/2026</div>
</body></html>
